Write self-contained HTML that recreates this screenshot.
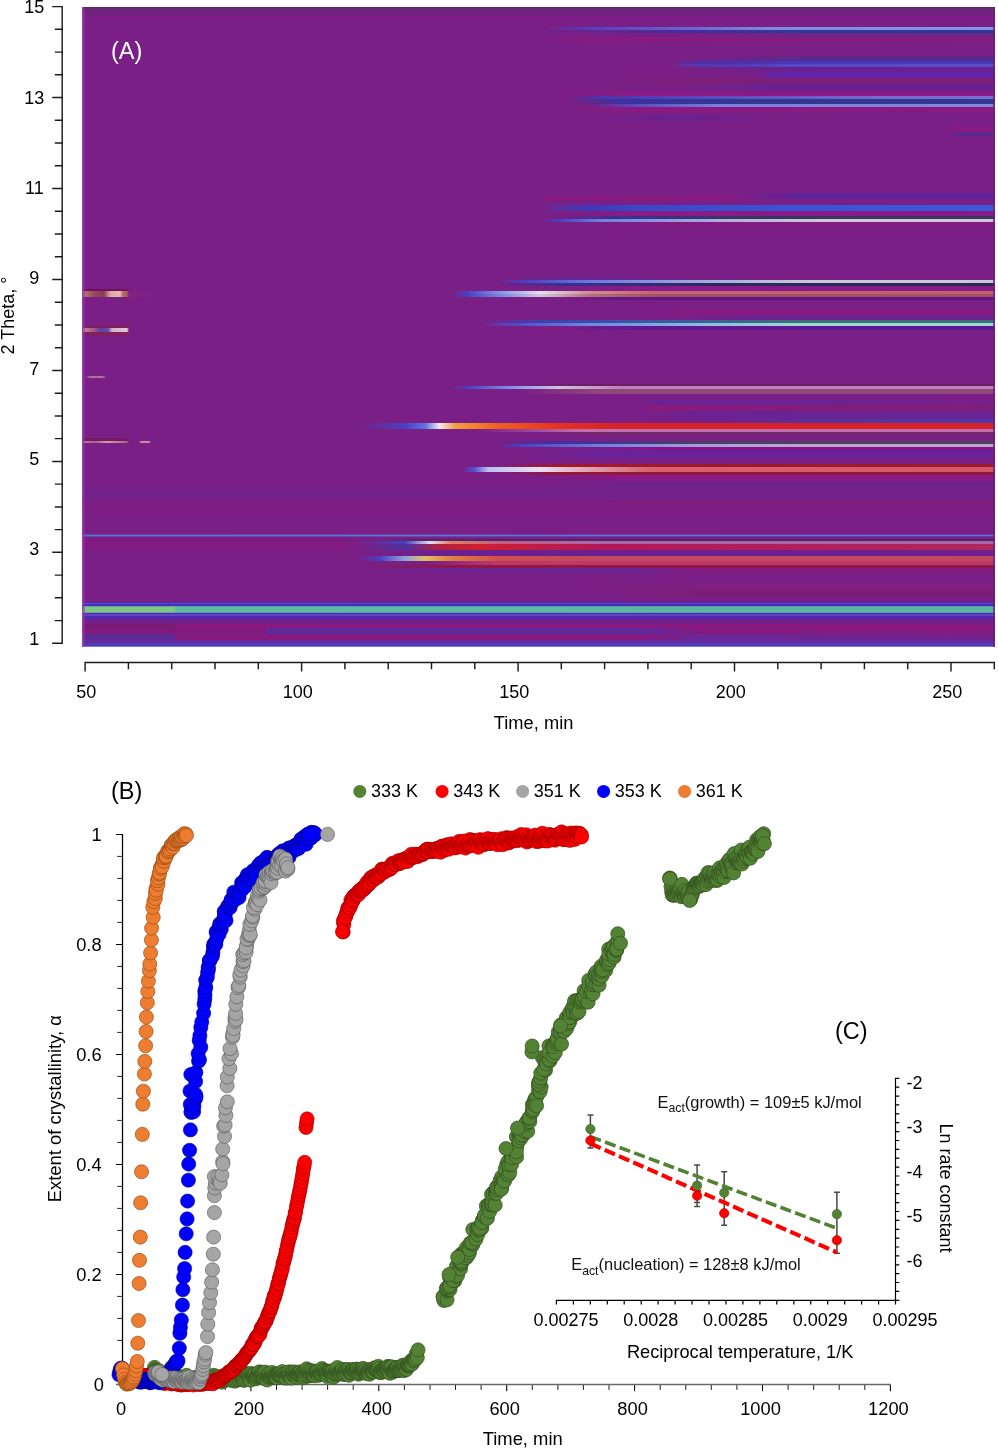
<!DOCTYPE html>
<html><head><meta charset="utf-8"><title>Figure</title>
<style>html,body{margin:0;padding:0;background:#fff}svg{display:block;will-change:transform}</style>
</head><body>
<svg width="998" height="1448" viewBox="0 0 998 1448">
<defs><linearGradient id="g1" gradientUnits="userSpaceOnUse" x1="543" y1="0" x2="994.8" y2="0"><stop offset="0.000" stop-color="#5a3cb8" stop-opacity="0"/><stop offset="0.104" stop-color="#5a3cb8"/><stop offset="0.303" stop-color="#6a60d0"/><stop offset="0.502" stop-color="#8088e0"/><stop offset="1.000" stop-color="#8c94e6"/></linearGradient>
<linearGradient id="g2" gradientUnits="userSpaceOnUse" x1="543" y1="0" x2="994.8" y2="0"><stop offset="0.000" stop-color="#4a2c98" stop-opacity="0"/><stop offset="0.303" stop-color="#4a2c98"/><stop offset="0.569" stop-color="#2e3a90"/><stop offset="1.000" stop-color="#2e3a90"/></linearGradient>
<linearGradient id="g3" gradientUnits="userSpaceOnUse" x1="680" y1="0" x2="994.8" y2="0"><stop offset="0.000" stop-color="#6a2585" stop-opacity="0"/><stop offset="0.381" stop-color="#6a2585"/><stop offset="1.000" stop-color="#6a2585"/></linearGradient>
<linearGradient id="g4" gradientUnits="userSpaceOnUse" x1="543" y1="0" x2="994.8" y2="0"><stop offset="0.000" stop-color="#8a1a80" stop-opacity="0"/><stop offset="0.126" stop-color="#8a1a80"/><stop offset="1.000" stop-color="#841c82"/></linearGradient>
<linearGradient id="g5" gradientUnits="userSpaceOnUse" x1="700" y1="0" x2="994.8" y2="0"><stop offset="0.000" stop-color="#5a2a8a" stop-opacity="0"/><stop offset="0.339" stop-color="#5a2a8a"/><stop offset="1.000" stop-color="#5a2a8a"/></linearGradient>
<linearGradient id="g6" gradientUnits="userSpaceOnUse" x1="672" y1="0" x2="994.8" y2="0"><stop offset="0.000" stop-color="#4338b8" stop-opacity="0"/><stop offset="0.087" stop-color="#4a30a8"/><stop offset="0.310" stop-color="#4a34b0"/><stop offset="0.335" stop-color="#4338b8"/><stop offset="1.000" stop-color="#4338b8"/></linearGradient>
<linearGradient id="g7" gradientUnits="userSpaceOnUse" x1="672" y1="0" x2="994.8" y2="0"><stop offset="0.000" stop-color="#5548c8" stop-opacity="0"/><stop offset="0.087" stop-color="#5038b0"/><stop offset="0.310" stop-color="#5240bc"/><stop offset="0.335" stop-color="#5548c8"/><stop offset="1.000" stop-color="#5a4ccc"/></linearGradient>
<linearGradient id="g8" gradientUnits="userSpaceOnUse" x1="700" y1="0" x2="994.8" y2="0"><stop offset="0.000" stop-color="#6a2090" stop-opacity="0"/><stop offset="0.339" stop-color="#6a2090"/><stop offset="1.000" stop-color="#6a2090"/></linearGradient>
<linearGradient id="g9" gradientUnits="userSpaceOnUse" x1="755" y1="0" x2="994.8" y2="0"><stop offset="0.000" stop-color="#6422a8" stop-opacity="0"/><stop offset="0.083" stop-color="#6422a8"/><stop offset="1.000" stop-color="#6422a8"/></linearGradient>
<linearGradient id="g10" gradientUnits="userSpaceOnUse" x1="600" y1="0" x2="994.8" y2="0"><stop offset="0.000" stop-color="#7c1f78" stop-opacity="0"/><stop offset="0.253" stop-color="#7c1f78"/><stop offset="1.000" stop-color="#7c1f78"/></linearGradient>
<linearGradient id="g11" gradientUnits="userSpaceOnUse" x1="680" y1="0" x2="994.8" y2="0"><stop offset="0.000" stop-color="#682290" stop-opacity="0"/><stop offset="0.318" stop-color="#682290"/><stop offset="1.000" stop-color="#682290"/></linearGradient>
<linearGradient id="g12" gradientUnits="userSpaceOnUse" x1="560" y1="0" x2="994.8" y2="0"><stop offset="0.000" stop-color="#8a1a85" stop-opacity="0"/><stop offset="0.184" stop-color="#8a1a85"/><stop offset="1.000" stop-color="#8a1a85"/></linearGradient>
<linearGradient id="g13" gradientUnits="userSpaceOnUse" x1="570" y1="0" x2="994.8" y2="0"><stop offset="0.000" stop-color="#4a35b0" stop-opacity="0"/><stop offset="0.071" stop-color="#4a35b0"/><stop offset="0.306" stop-color="#5a48c0"/><stop offset="0.683" stop-color="#7468cc"/><stop offset="1.000" stop-color="#7a6fd0"/></linearGradient>
<linearGradient id="g14" gradientUnits="userSpaceOnUse" x1="570" y1="0" x2="994.8" y2="0"><stop offset="0.000" stop-color="#303890" stop-opacity="0"/><stop offset="0.118" stop-color="#4030a0"/><stop offset="0.353" stop-color="#303890"/><stop offset="1.000" stop-color="#303890"/></linearGradient>
<linearGradient id="g15" gradientUnits="userSpaceOnUse" x1="588" y1="0" x2="994.8" y2="0"><stop offset="0.000" stop-color="#5040c0" stop-opacity="0"/><stop offset="0.128" stop-color="#5a50c8"/><stop offset="0.324" stop-color="#7880dc"/><stop offset="1.000" stop-color="#8088e0"/></linearGradient>
<linearGradient id="g16" gradientUnits="userSpaceOnUse" x1="560" y1="0" x2="994.8" y2="0"><stop offset="0.000" stop-color="#8a1a80" stop-opacity="0"/><stop offset="0.184" stop-color="#8a1a80"/><stop offset="1.000" stop-color="#8a1a80"/></linearGradient>
<linearGradient id="g17" gradientUnits="userSpaceOnUse" x1="588" y1="0" x2="780" y2="0"><stop offset="0.000" stop-color="#6a2090" stop-opacity="0"/><stop offset="0.479" stop-color="#6a2090"/><stop offset="1.000" stop-color="#6a2090" stop-opacity="0"/></linearGradient>
<linearGradient id="g18" gradientUnits="userSpaceOnUse" x1="950" y1="0" x2="994.8" y2="0"><stop offset="0.000" stop-color="#8a1a84" stop-opacity="0"/><stop offset="0.223" stop-color="#8a1a84"/><stop offset="1.000" stop-color="#8a1a84"/></linearGradient>
<linearGradient id="g19" gradientUnits="userSpaceOnUse" x1="950" y1="0" x2="994.8" y2="0"><stop offset="0.000" stop-color="#5f2890" stop-opacity="0"/><stop offset="0.223" stop-color="#5f2890"/><stop offset="1.000" stop-color="#5f2890"/></linearGradient>
<linearGradient id="g20" gradientUnits="userSpaceOnUse" x1="740" y1="0" x2="994.8" y2="0"><stop offset="0.000" stop-color="#5f2298" stop-opacity="0"/><stop offset="0.235" stop-color="#5f2298"/><stop offset="1.000" stop-color="#5f2298"/></linearGradient>
<linearGradient id="g21" gradientUnits="userSpaceOnUse" x1="543" y1="0" x2="760" y2="0"><stop offset="0.000" stop-color="#8a1a80"/><stop offset="0.816" stop-color="#8a1a80"/><stop offset="1.000" stop-color="#8a1a80" stop-opacity="0"/></linearGradient>
<linearGradient id="g22" gradientUnits="userSpaceOnUse" x1="540" y1="0" x2="994.8" y2="0"><stop offset="0.000" stop-color="#3848c8" stop-opacity="0"/><stop offset="0.106" stop-color="#4038b8"/><stop offset="0.220" stop-color="#3848c8"/><stop offset="0.528" stop-color="#3a52d4"/><stop offset="1.000" stop-color="#3a5ad8"/></linearGradient>
<linearGradient id="g23" gradientUnits="userSpaceOnUse" x1="560" y1="0" x2="994.8" y2="0"><stop offset="0.000" stop-color="#8a1a88" stop-opacity="0"/><stop offset="0.184" stop-color="#8a1a88"/><stop offset="1.000" stop-color="#8a1a88"/></linearGradient>
<linearGradient id="g24" gradientUnits="userSpaceOnUse" x1="560" y1="0" x2="994.8" y2="0"><stop offset="0.000" stop-color="#3a3090" stop-opacity="0"/><stop offset="0.138" stop-color="#3a3090"/><stop offset="0.414" stop-color="#3a3560"/><stop offset="1.000" stop-color="#3a3560"/></linearGradient>
<linearGradient id="g25" gradientUnits="userSpaceOnUse" x1="540" y1="0" x2="994.8" y2="0"><stop offset="0.000" stop-color="#4a40c0" stop-opacity="0"/><stop offset="0.044" stop-color="#4a40c0"/><stop offset="0.132" stop-color="#7080e0"/><stop offset="0.409" stop-color="#b0b0e0"/><stop offset="0.616" stop-color="#d0c8d8"/><stop offset="1.000" stop-color="#d0c8d8"/></linearGradient>
<linearGradient id="g26" gradientUnits="userSpaceOnUse" x1="600" y1="0" x2="994.8" y2="0"><stop offset="0.000" stop-color="#84197f" stop-opacity="0"/><stop offset="0.203" stop-color="#84197f"/><stop offset="1.000" stop-color="#84197f"/></linearGradient>
<linearGradient id="g27" gradientUnits="userSpaceOnUse" x1="497" y1="0" x2="700" y2="0"><stop offset="0.000" stop-color="#6a2490" stop-opacity="0"/><stop offset="0.310" stop-color="#6a2490"/><stop offset="1.000" stop-color="#6a2490" stop-opacity="0"/></linearGradient>
<linearGradient id="g28" gradientUnits="userSpaceOnUse" x1="497" y1="0" x2="994.8" y2="0"><stop offset="0.000" stop-color="#4a40c0" stop-opacity="0"/><stop offset="0.056" stop-color="#4a40c0"/><stop offset="0.185" stop-color="#6a78e0"/><stop offset="0.408" stop-color="#a0a8e0"/><stop offset="0.609" stop-color="#c8c8d8"/><stop offset="1.000" stop-color="#c8c8d8"/></linearGradient>
<linearGradient id="g29" gradientUnits="userSpaceOnUse" x1="497" y1="0" x2="994.8" y2="0"><stop offset="0.000" stop-color="#3a3090" stop-opacity="0"/><stop offset="0.127" stop-color="#3a3090"/><stop offset="0.408" stop-color="#2a2a60"/><stop offset="1.000" stop-color="#2a2a50"/></linearGradient>
<linearGradient id="g30" gradientUnits="userSpaceOnUse" x1="560" y1="0" x2="994.8" y2="0"><stop offset="0.000" stop-color="#8a1a88" stop-opacity="0"/><stop offset="0.184" stop-color="#8a1a88"/><stop offset="1.000" stop-color="#8a1a88"/></linearGradient>
<linearGradient id="g31" gradientUnits="userSpaceOnUse" x1="451" y1="0" x2="994.8" y2="0"><stop offset="0.000" stop-color="#4a40c0" stop-opacity="0"/><stop offset="0.031" stop-color="#4a40c0"/><stop offset="0.085" stop-color="#8090e0"/><stop offset="0.164" stop-color="#e4e0f0"/><stop offset="0.254" stop-color="#d09090"/><stop offset="0.366" stop-color="#c06878"/><stop offset="1.000" stop-color="#c06070"/></linearGradient>
<linearGradient id="g32" gradientUnits="userSpaceOnUse" x1="451" y1="0" x2="994.8" y2="0"><stop offset="0.000" stop-color="#4a40c0" stop-opacity="0"/><stop offset="0.031" stop-color="#4a40c0"/><stop offset="0.085" stop-color="#7080d8"/><stop offset="0.164" stop-color="#d0c8e0"/><stop offset="0.254" stop-color="#b87078"/><stop offset="0.366" stop-color="#a85060"/><stop offset="1.000" stop-color="#a85060"/></linearGradient>
<linearGradient id="g33" gradientUnits="userSpaceOnUse" x1="560" y1="0" x2="994.8" y2="0"><stop offset="0.000" stop-color="#601888" stop-opacity="0"/><stop offset="0.138" stop-color="#601888"/><stop offset="1.000" stop-color="#601888"/></linearGradient>
<linearGradient id="g34" gradientUnits="userSpaceOnUse" x1="680" y1="0" x2="994.8" y2="0"><stop offset="0.000" stop-color="#6a2090" stop-opacity="0"/><stop offset="0.254" stop-color="#6a2090"/><stop offset="1.000" stop-color="#6a2090"/></linearGradient>
<linearGradient id="g35" gradientUnits="userSpaceOnUse" x1="480" y1="0" x2="994.8" y2="0"><stop offset="0.000" stop-color="#4040b0" stop-opacity="0"/><stop offset="0.122" stop-color="#4040b0"/><stop offset="0.330" stop-color="#3a58a0"/><stop offset="0.622" stop-color="#3a7078"/><stop offset="1.000" stop-color="#3a7078"/></linearGradient>
<linearGradient id="g36" gradientUnits="userSpaceOnUse" x1="480" y1="0" x2="994.8" y2="0"><stop offset="0.000" stop-color="#5050c8" stop-opacity="0"/><stop offset="0.078" stop-color="#5050c8"/><stop offset="0.212" stop-color="#7088e0"/><stop offset="0.427" stop-color="#90b8e0"/><stop offset="0.622" stop-color="#a0d8d0"/><stop offset="1.000" stop-color="#a0d8d0"/></linearGradient>
<linearGradient id="g37" gradientUnits="userSpaceOnUse" x1="560" y1="0" x2="994.8" y2="0"><stop offset="0.000" stop-color="#601890" stop-opacity="0"/><stop offset="0.184" stop-color="#601890"/><stop offset="1.000" stop-color="#601890"/></linearGradient>
<linearGradient id="g38" gradientUnits="userSpaceOnUse" x1="640" y1="0" x2="994.8" y2="0"><stop offset="0.000" stop-color="#8a1a80" stop-opacity="0"/><stop offset="0.169" stop-color="#8a1a80"/><stop offset="1.000" stop-color="#8a1a80"/></linearGradient>
<linearGradient id="g39" gradientUnits="userSpaceOnUse" x1="520" y1="0" x2="994.8" y2="0"><stop offset="0.000" stop-color="#6a2060" stop-opacity="0"/><stop offset="0.126" stop-color="#6a2060"/><stop offset="1.000" stop-color="#6a2060"/></linearGradient>
<linearGradient id="g40" gradientUnits="userSpaceOnUse" x1="451" y1="0" x2="994.8" y2="0"><stop offset="0.000" stop-color="#4a40c0" stop-opacity="0"/><stop offset="0.031" stop-color="#4a40c0"/><stop offset="0.127" stop-color="#90a0e8"/><stop offset="0.200" stop-color="#d0c0e0"/><stop offset="0.311" stop-color="#c080c0"/><stop offset="1.000" stop-color="#c080c0"/></linearGradient>
<linearGradient id="g41" gradientUnits="userSpaceOnUse" x1="520" y1="0" x2="994.8" y2="0"><stop offset="0.000" stop-color="#904878" stop-opacity="0"/><stop offset="0.168" stop-color="#904878"/><stop offset="1.000" stop-color="#904878"/></linearGradient>
<linearGradient id="g42" gradientUnits="userSpaceOnUse" x1="640" y1="0" x2="994.8" y2="0"><stop offset="0.000" stop-color="#6a2294" stop-opacity="0"/><stop offset="0.056" stop-color="#6a2294"/><stop offset="0.451" stop-color="#6a2294"/><stop offset="1.000" stop-color="#7a2088"/></linearGradient>
<linearGradient id="g43" gradientUnits="userSpaceOnUse" x1="640" y1="0" x2="994.8" y2="0"><stop offset="0.000" stop-color="#8a1a7c" stop-opacity="0"/><stop offset="0.056" stop-color="#8a1a7c"/><stop offset="1.000" stop-color="#7c1f78"/></linearGradient>
<linearGradient id="g44" gradientUnits="userSpaceOnUse" x1="640" y1="0" x2="994.8" y2="0"><stop offset="0.000" stop-color="#6a2294" stop-opacity="0"/><stop offset="0.169" stop-color="#6a2294"/><stop offset="1.000" stop-color="#682494"/></linearGradient>
<linearGradient id="g45" gradientUnits="userSpaceOnUse" x1="700" y1="0" x2="994.8" y2="0"><stop offset="0.000" stop-color="#5a3098" stop-opacity="0"/><stop offset="0.339" stop-color="#5a3098"/><stop offset="1.000" stop-color="#5038a8"/></linearGradient>
<linearGradient id="g46" gradientUnits="userSpaceOnUse" x1="359" y1="0" x2="994.8" y2="0"><stop offset="0.000" stop-color="#4a40c0" stop-opacity="0"/><stop offset="0.072" stop-color="#4a40c0"/><stop offset="0.104" stop-color="#6070e0"/><stop offset="0.127" stop-color="#f0e8f0"/><stop offset="0.151" stop-color="#f0a040"/><stop offset="0.217" stop-color="#f06020"/><stop offset="0.316" stop-color="#e83020"/><stop offset="0.411" stop-color="#d82028"/><stop offset="1.000" stop-color="#d82028"/></linearGradient>
<linearGradient id="g47" gradientUnits="userSpaceOnUse" x1="480" y1="0" x2="994.8" y2="0"><stop offset="0.000" stop-color="#c070b0" stop-opacity="0"/><stop offset="0.194" stop-color="#c070b0"/><stop offset="1.000" stop-color="#c070b0"/></linearGradient>
<linearGradient id="g48" gradientUnits="userSpaceOnUse" x1="540" y1="0" x2="994.8" y2="0"><stop offset="0.000" stop-color="#702868" stop-opacity="0"/><stop offset="0.132" stop-color="#702868"/><stop offset="1.000" stop-color="#702868"/></linearGradient>
<linearGradient id="g49" gradientUnits="userSpaceOnUse" x1="497" y1="0" x2="994.8" y2="0"><stop offset="0.000" stop-color="#4030a0" stop-opacity="0"/><stop offset="0.127" stop-color="#4030a0"/><stop offset="0.408" stop-color="#4a4060"/><stop offset="1.000" stop-color="#4a4060"/></linearGradient>
<linearGradient id="g50" gradientUnits="userSpaceOnUse" x1="497" y1="0" x2="994.8" y2="0"><stop offset="0.000" stop-color="#4a40c0" stop-opacity="0"/><stop offset="0.046" stop-color="#4a40c0"/><stop offset="0.207" stop-color="#7080e0"/><stop offset="0.408" stop-color="#a0a0e0"/><stop offset="0.609" stop-color="#b8a8d0"/><stop offset="1.000" stop-color="#b8a8d0"/></linearGradient>
<linearGradient id="g51" gradientUnits="userSpaceOnUse" x1="600" y1="0" x2="994.8" y2="0"><stop offset="0.000" stop-color="#8a1088" stop-opacity="0"/><stop offset="0.152" stop-color="#8a1088"/><stop offset="1.000" stop-color="#8a1088"/></linearGradient>
<linearGradient id="g52" gradientUnits="userSpaceOnUse" x1="520" y1="0" x2="994.8" y2="0"><stop offset="0.000" stop-color="#6a2298" stop-opacity="0"/><stop offset="0.168" stop-color="#6a2298"/><stop offset="1.000" stop-color="#6a2298"/></linearGradient>
<linearGradient id="g53" gradientUnits="userSpaceOnUse" x1="497" y1="0" x2="994.8" y2="0"><stop offset="0.000" stop-color="#a01830" stop-opacity="0"/><stop offset="0.127" stop-color="#a01830"/><stop offset="1.000" stop-color="#a01830"/></linearGradient>
<linearGradient id="g54" gradientUnits="userSpaceOnUse" x1="462" y1="0" x2="994.8" y2="0"><stop offset="0.000" stop-color="#5050d0" stop-opacity="0"/><stop offset="0.023" stop-color="#5050d0"/><stop offset="0.049" stop-color="#c0c0f0"/><stop offset="0.146" stop-color="#e8e0f0"/><stop offset="0.240" stop-color="#e0a0b0"/><stop offset="0.353" stop-color="#d86070"/><stop offset="1.000" stop-color="#d05868"/></linearGradient>
<linearGradient id="g55" gradientUnits="userSpaceOnUse" x1="500" y1="0" x2="994.8" y2="0"><stop offset="0.000" stop-color="#901838" stop-opacity="0"/><stop offset="0.121" stop-color="#901838"/><stop offset="1.000" stop-color="#901838"/></linearGradient>
<linearGradient id="g56" gradientUnits="userSpaceOnUse" x1="540" y1="0" x2="994.8" y2="0"><stop offset="0.000" stop-color="#8a1a88" stop-opacity="0"/><stop offset="0.176" stop-color="#8a1a88"/><stop offset="1.000" stop-color="#8a1a88"/></linearGradient>
<linearGradient id="g57" gradientUnits="userSpaceOnUse" x1="540" y1="0" x2="994.8" y2="0"><stop offset="0.000" stop-color="#70218c" stop-opacity="0"/><stop offset="0.176" stop-color="#70218c"/><stop offset="1.000" stop-color="#70218c"/></linearGradient>
<linearGradient id="g58" gradientUnits="userSpaceOnUse" x1="560" y1="0" x2="994.8" y2="0"><stop offset="0.000" stop-color="#74207c" stop-opacity="0"/><stop offset="0.184" stop-color="#74207c"/><stop offset="1.000" stop-color="#74207c"/></linearGradient>
<linearGradient id="g59" gradientUnits="userSpaceOnUse" x1="83" y1="0" x2="994.8" y2="0"><stop offset="0.000" stop-color="#5c4ab0"/><stop offset="0.348" stop-color="#5c4ab0"/><stop offset="0.567" stop-color="#5a44b4"/><stop offset="1.000" stop-color="#5a3eb8"/></linearGradient>
<linearGradient id="g60" gradientUnits="userSpaceOnUse" x1="83" y1="0" x2="994.8" y2="0"><stop offset="0.000" stop-color="#7466c4"/><stop offset="1.000" stop-color="#7a68cc"/></linearGradient>
<linearGradient id="g61" gradientUnits="userSpaceOnUse" x1="83" y1="0" x2="359" y2="0"><stop offset="0.000" stop-color="#821a80"/><stop offset="0.931" stop-color="#821a80"/><stop offset="1.000" stop-color="#821a80" stop-opacity="0"/></linearGradient>
<linearGradient id="g62" gradientUnits="userSpaceOnUse" x1="380" y1="0" x2="994.8" y2="0"><stop offset="0.000" stop-color="#5a2068" stop-opacity="0"/><stop offset="0.065" stop-color="#5a2068"/><stop offset="1.000" stop-color="#5a2068"/></linearGradient>
<linearGradient id="g63" gradientUnits="userSpaceOnUse" x1="359" y1="0" x2="994.8" y2="0"><stop offset="0.000" stop-color="#4040c0" stop-opacity="0"/><stop offset="0.072" stop-color="#4040c0"/><stop offset="0.112" stop-color="#e0e0f0"/><stop offset="0.145" stop-color="#e08060"/><stop offset="0.222" stop-color="#c06080"/><stop offset="0.379" stop-color="#a868a8"/><stop offset="1.000" stop-color="#a868a8"/></linearGradient>
<linearGradient id="g64" gradientUnits="userSpaceOnUse" x1="359" y1="0" x2="994.8" y2="0"><stop offset="0.000" stop-color="#5030a0" stop-opacity="0"/><stop offset="0.072" stop-color="#5030a0"/><stop offset="0.127" stop-color="#b02040"/><stop offset="0.190" stop-color="#d02030"/><stop offset="0.379" stop-color="#b01858"/><stop offset="1.000" stop-color="#b02860"/></linearGradient>
<linearGradient id="g65" gradientUnits="userSpaceOnUse" x1="359" y1="0" x2="994.8" y2="0"><stop offset="0.000" stop-color="#6a2090" stop-opacity="0"/><stop offset="0.145" stop-color="#6a2090"/><stop offset="1.000" stop-color="#702090"/></linearGradient>
<linearGradient id="g66" gradientUnits="userSpaceOnUse" x1="359" y1="0" x2="994.8" y2="0"><stop offset="0.000" stop-color="#4a40c0" stop-opacity="0"/><stop offset="0.033" stop-color="#4a40c0"/><stop offset="0.072" stop-color="#90a0e0"/><stop offset="0.104" stop-color="#e0c060"/><stop offset="0.145" stop-color="#e08040"/><stop offset="0.217" stop-color="#d05050"/><stop offset="0.379" stop-color="#c04860"/><stop offset="1.000" stop-color="#c04860"/></linearGradient>
<linearGradient id="g67" gradientUnits="userSpaceOnUse" x1="430" y1="0" x2="994.8" y2="0"><stop offset="0.000" stop-color="#c03868" stop-opacity="0"/><stop offset="0.119" stop-color="#c03868"/><stop offset="1.000" stop-color="#c03868"/></linearGradient>
<linearGradient id="g68" gradientUnits="userSpaceOnUse" x1="359" y1="0" x2="994.8" y2="0"><stop offset="0.000" stop-color="#901848" stop-opacity="0"/><stop offset="0.145" stop-color="#901848"/><stop offset="1.000" stop-color="#901848"/></linearGradient>
<linearGradient id="g69" gradientUnits="userSpaceOnUse" x1="359" y1="0" x2="700" y2="0"><stop offset="0.000" stop-color="#6c2292" stop-opacity="0"/><stop offset="0.270" stop-color="#6c2292"/><stop offset="0.824" stop-color="#6c2292"/><stop offset="1.000" stop-color="#84197f"/></linearGradient>
<linearGradient id="g70" gradientUnits="userSpaceOnUse" x1="600" y1="0" x2="994.8" y2="0"><stop offset="0.000" stop-color="#7a1f78" stop-opacity="0"/><stop offset="0.253" stop-color="#7a1f78"/><stop offset="1.000" stop-color="#7a1f78"/></linearGradient>
<linearGradient id="g71" gradientUnits="userSpaceOnUse" x1="560" y1="0" x2="994.8" y2="0"><stop offset="0.000" stop-color="#80207c" stop-opacity="0"/><stop offset="0.322" stop-color="#80207c"/><stop offset="1.000" stop-color="#80207c"/></linearGradient>
<linearGradient id="g72" gradientUnits="userSpaceOnUse" x1="83" y1="0" x2="994.8" y2="0"><stop offset="0.000" stop-color="#7cc884"/><stop offset="0.099" stop-color="#7cc884"/><stop offset="0.103" stop-color="#5cbca0"/><stop offset="1.000" stop-color="#58b8a0"/></linearGradient>
<linearGradient id="g73" gradientUnits="userSpaceOnUse" x1="83" y1="0" x2="994.8" y2="0"><stop offset="0.000" stop-color="#7a1a74"/><stop offset="0.099" stop-color="#7a1a74"/><stop offset="0.103" stop-color="#8a1880"/><stop offset="1.000" stop-color="#8a1880"/></linearGradient>
<linearGradient id="g74" gradientUnits="userSpaceOnUse" x1="83" y1="0" x2="994.8" y2="0"><stop offset="0.000" stop-color="#80197c"/><stop offset="0.199" stop-color="#80197c"/><stop offset="0.203" stop-color="#602a9c"/><stop offset="0.611" stop-color="#602a9c"/><stop offset="0.677" stop-color="#84197f"/><stop offset="1.000" stop-color="#84197f"/></linearGradient>
<linearGradient id="g75" gradientUnits="userSpaceOnUse" x1="83" y1="0" x2="994.8" y2="0"><stop offset="0.000" stop-color="#5e2a98"/><stop offset="0.099" stop-color="#5e2a98"/><stop offset="0.103" stop-color="#84197e"/><stop offset="0.611" stop-color="#84197e"/><stop offset="0.677" stop-color="#6a2898"/><stop offset="1.000" stop-color="#74208c"/></linearGradient>
<linearGradient id="g76" gradientUnits="userSpaceOnUse" x1="83" y1="0" x2="130" y2="0"><stop offset="0.000" stop-color="#701060"/><stop offset="0.915" stop-color="#701060"/><stop offset="1.000" stop-color="#701060" stop-opacity="0"/></linearGradient>
<linearGradient id="g77" gradientUnits="userSpaceOnUse" x1="83" y1="0" x2="152" y2="0"><stop offset="0.000" stop-color="#b87a6c"/><stop offset="0.188" stop-color="#94445a"/><stop offset="0.304" stop-color="#8c3a58"/><stop offset="0.391" stop-color="#d8a8a0"/><stop offset="0.536" stop-color="#e4bcac"/><stop offset="0.580" stop-color="#b46c5c"/><stop offset="0.638" stop-color="#a45c60"/><stop offset="0.667" stop-color="#8a3080" stop-opacity="0.35"/><stop offset="0.971" stop-color="#8a3080" stop-opacity="0.12"/><stop offset="1.000" stop-color="#8a3080" stop-opacity="0"/></linearGradient>
<linearGradient id="g78" gradientUnits="userSpaceOnUse" x1="83" y1="0" x2="130" y2="0"><stop offset="0.000" stop-color="#802060"/><stop offset="0.915" stop-color="#802060"/><stop offset="1.000" stop-color="#802060" stop-opacity="0"/></linearGradient>
<linearGradient id="g79" gradientUnits="userSpaceOnUse" x1="83" y1="0" x2="129" y2="0"><stop offset="0.000" stop-color="#c08898"/><stop offset="0.239" stop-color="#a05888"/><stop offset="0.370" stop-color="#6040a0"/><stop offset="0.543" stop-color="#6848a8"/><stop offset="0.630" stop-color="#d0b0c8"/><stop offset="0.957" stop-color="#e0c8d0"/><stop offset="1.000" stop-color="#e0c8d0" stop-opacity="0"/></linearGradient>
<linearGradient id="g80" gradientUnits="userSpaceOnUse" x1="83" y1="0" x2="130" y2="0"><stop offset="0.000" stop-color="#802060"/><stop offset="0.915" stop-color="#802060"/><stop offset="1.000" stop-color="#802060" stop-opacity="0"/></linearGradient>
<linearGradient id="g81" gradientUnits="userSpaceOnUse" x1="86" y1="0" x2="106" y2="0"><stop offset="0.000" stop-color="#b070a0" stop-opacity="0"/><stop offset="0.200" stop-color="#b070a0"/><stop offset="0.850" stop-color="#b070a0"/><stop offset="1.000" stop-color="#b070a0" stop-opacity="0"/></linearGradient>
<linearGradient id="g82" gradientUnits="userSpaceOnUse" x1="83" y1="0" x2="129" y2="0"><stop offset="0.000" stop-color="#c08090"/><stop offset="0.283" stop-color="#a06088"/><stop offset="0.500" stop-color="#d0a0a0"/><stop offset="0.761" stop-color="#c08090"/><stop offset="0.957" stop-color="#a06088"/><stop offset="1.000" stop-color="#a06088" stop-opacity="0"/></linearGradient>
<linearGradient id="g83" gradientUnits="userSpaceOnUse" x1="139" y1="0" x2="151" y2="0"><stop offset="0.000" stop-color="#c090a0" stop-opacity="0"/><stop offset="0.167" stop-color="#c090a0"/><stop offset="0.833" stop-color="#c090a0"/><stop offset="1.000" stop-color="#c090a0" stop-opacity="0"/></linearGradient>
<linearGradient id="g84" gradientUnits="userSpaceOnUse" x1="83" y1="0" x2="130" y2="0"><stop offset="0.000" stop-color="#741868"/><stop offset="0.915" stop-color="#741868"/><stop offset="1.000" stop-color="#741868" stop-opacity="0"/></linearGradient></defs>
<rect width="998" height="1448" fill="#fff"/>
<g shape-rendering="crispEdges">
<rect x="82.2" y="7" width="912.6" height="640" fill="#7a1f86"/>
<rect x="82.2" y="7" width="912.6" height="1.2" fill="#5e2868"/>
<rect x="82.2" y="8.2" width="912.6" height="6.8" fill="#6c2478"/>
<rect x="82.2" y="15" width="912.6" height="5" fill="#7e1d8a"/>
<rect x="543" y="27" width="451.8" height="2.7" fill="url(#g1)"/>
<rect x="543" y="29.7" width="451.8" height="2.9" fill="url(#g2)"/>
<rect x="680" y="32.6" width="314.8" height="4.1" fill="url(#g3)"/>
<rect x="543" y="38" width="451.8" height="4" fill="url(#g4)"/>
<rect x="700" y="55.6" width="294.8" height="5.4" fill="url(#g5)"/>
<rect x="672" y="61" width="322.8" height="2.9" fill="url(#g6)"/>
<rect x="672" y="63.9" width="322.8" height="3" fill="url(#g7)"/>
<rect x="700" y="66.9" width="294.8" height="5.1" fill="url(#g8)"/>
<rect x="755" y="72" width="239.8" height="6" fill="url(#g9)"/>
<rect x="600" y="78" width="394.8" height="6" fill="url(#g10)"/>
<rect x="680" y="84" width="314.8" height="6.5" fill="url(#g11)"/>
<rect x="560" y="90.5" width="434.8" height="5.3" fill="url(#g12)"/>
<rect x="570" y="95.8" width="424.8" height="3.5" fill="url(#g13)"/>
<rect x="570" y="99.3" width="424.8" height="4.7" fill="url(#g14)"/>
<rect x="588" y="104" width="406.8" height="3" fill="url(#g15)"/>
<rect x="560" y="107" width="434.8" height="5" fill="url(#g16)"/>
<rect x="588" y="116" width="406.8" height="5" fill="url(#g17)"/>
<rect x="950" y="126" width="44.8" height="6" fill="url(#g18)"/>
<rect x="950" y="132" width="44.8" height="4" fill="url(#g19)"/>
<rect x="740" y="193.4" width="254.8" height="5.9" fill="url(#g20)"/>
<rect x="543" y="196" width="451.8" height="4" fill="url(#g21)"/>
<rect x="540" y="204.6" width="454.8" height="6.4" fill="url(#g22)"/>
<rect x="560" y="211" width="434.8" height="5.4" fill="url(#g23)"/>
<rect x="560" y="216.4" width="434.8" height="3" fill="url(#g24)"/>
<rect x="540" y="219.4" width="454.8" height="3" fill="url(#g25)"/>
<rect x="600" y="222.4" width="394.8" height="3.6" fill="url(#g26)"/>
<rect x="497" y="276" width="497.8" height="3.7" fill="url(#g27)"/>
<rect x="497" y="279.7" width="497.8" height="3" fill="url(#g28)"/>
<rect x="497" y="282.7" width="497.8" height="2.9" fill="url(#g29)"/>
<rect x="560" y="285.6" width="434.8" height="5.4" fill="url(#g30)"/>
<rect x="451" y="291" width="543.8" height="2.6" fill="url(#g31)"/>
<rect x="451" y="293.6" width="543.8" height="3.4" fill="url(#g32)"/>
<rect x="560" y="297" width="434.8" height="3.4" fill="url(#g33)"/>
<rect x="680" y="316" width="314.8" height="4" fill="url(#g34)"/>
<rect x="480" y="319.9" width="514.8" height="3" fill="url(#g35)"/>
<rect x="480" y="322.9" width="514.8" height="2.8" fill="url(#g36)"/>
<rect x="560" y="325.7" width="434.8" height="4.3" fill="url(#g37)"/>
<rect x="640" y="310" width="354.8" height="4" fill="url(#g38)"/>
<rect x="520" y="383.8" width="474.8" height="2.4" fill="url(#g39)"/>
<rect x="451" y="386.2" width="543.8" height="2.9" fill="url(#g40)"/>
<rect x="520" y="389.1" width="474.8" height="5.3" fill="url(#g41)"/>
<rect x="640" y="400" width="354.8" height="5" fill="url(#g42)"/>
<rect x="640" y="405" width="354.8" height="6" fill="url(#g43)"/>
<rect x="640" y="411" width="354.8" height="8" fill="url(#g44)"/>
<rect x="700" y="419" width="294.8" height="4.4" fill="url(#g45)"/>
<rect x="359" y="423.4" width="635.8" height="6" fill="url(#g46)"/>
<rect x="480" y="429.4" width="514.8" height="2.9" fill="url(#g47)"/>
<rect x="540" y="432.3" width="454.8" height="2.9" fill="url(#g48)"/>
<rect x="497" y="441.1" width="497.8" height="2.6" fill="url(#g49)"/>
<rect x="497" y="443.7" width="497.8" height="2.9" fill="url(#g50)"/>
<rect x="600" y="446.6" width="394.8" height="3.4" fill="url(#g51)"/>
<rect x="520" y="450" width="474.8" height="8" fill="url(#g52)"/>
<rect x="497" y="463.6" width="497.8" height="3" fill="url(#g53)"/>
<rect x="462" y="466.6" width="532.8" height="5.4" fill="url(#g54)"/>
<rect x="500" y="472" width="494.8" height="3" fill="url(#g55)"/>
<rect x="540" y="475" width="454.8" height="6" fill="url(#g56)"/>
<rect x="82.2" y="487" width="912.6" height="11" fill="#73218a"/>
<rect x="540" y="481" width="454.8" height="6" fill="url(#g57)"/>
<rect x="560" y="500" width="434.8" height="6" fill="url(#g58)"/>
<rect x="82.2" y="503" width="912.6" height="11" fill="#7f1c84"/>
<rect x="83" y="533.8" width="911.8" height="3.6" fill="url(#g59)"/>
<rect x="83" y="534.6" width="911.8" height="1.6" fill="url(#g60)"/>
<rect x="83" y="539" width="911.8" height="10" fill="url(#g61)"/>
<rect x="380" y="538.7" width="614.8" height="2.3" fill="url(#g62)"/>
<rect x="359" y="541" width="635.8" height="3" fill="url(#g63)"/>
<rect x="359" y="544" width="635.8" height="6" fill="url(#g64)"/>
<rect x="359" y="550" width="635.8" height="6" fill="url(#g65)"/>
<rect x="359" y="556" width="635.8" height="5" fill="url(#g66)"/>
<rect x="430" y="561" width="564.8" height="3.5" fill="url(#g67)"/>
<rect x="359" y="564.5" width="635.8" height="3" fill="url(#g68)"/>
<rect x="359" y="567.5" width="635.8" height="5.5" fill="url(#g69)"/>
<rect x="600" y="590" width="394.8" height="6" fill="url(#g70)"/>
<rect x="560" y="584" width="434.8" height="6" fill="url(#g71)"/>
<rect x="82.2" y="601.6" width="912.6" height="4.8" fill="#4a2cb8"/>
<rect x="83" y="606.4" width="911.8" height="6.4" fill="url(#g72)"/>
<rect x="82.2" y="612.8" width="912.6" height="6.2" fill="#5028b4"/>
<rect x="82.2" y="602.6" width="912.6" height="1.8" fill="#6a54c8" opacity="0.7"/>
<rect x="82.2" y="614.2" width="912.6" height="1.8" fill="#6a50c8" opacity="0.7"/>
<rect x="82.2" y="606.4" width="912.6" height="1" fill="#5a88b0" opacity="0.6"/>
<rect x="82.2" y="611.8" width="912.6" height="1" fill="#5a88b0" opacity="0.6"/>
<rect x="82.2" y="619" width="912.6" height="4.5" fill="#74208a"/>
<rect x="83" y="623.5" width="911.8" height="4.5" fill="url(#g73)"/>
<rect x="83" y="628" width="911.8" height="6" fill="url(#g74)"/>
<rect x="83" y="634" width="911.8" height="6" fill="url(#g75)"/>
<rect x="82.2" y="640" width="912.6" height="3.2" fill="#6a2a9c"/>
<rect x="82.2" y="643.2" width="912.6" height="3.8" fill="#4a3cc0"/>
<rect x="82.2" y="645.8" width="912.6" height="1.2" fill="#8474d4"/>
<rect x="83" y="288.5" width="911.8" height="2.5" fill="url(#g76)"/>
<rect x="83" y="291" width="911.8" height="5.6" fill="url(#g77)"/>
<rect x="83" y="325" width="911.8" height="2.7" fill="url(#g78)"/>
<rect x="83" y="327.5" width="911.8" height="4.4" fill="url(#g79)"/>
<rect x="83" y="331.7" width="911.8" height="4.3" fill="url(#g80)"/>
<rect x="86" y="375.5" width="908.8" height="2" fill="url(#g81)"/>
<rect x="83" y="441" width="911.8" height="2" fill="url(#g82)"/>
<rect x="139" y="441" width="855.8" height="2" fill="url(#g83)"/>
<rect x="83" y="438" width="911.8" height="3" fill="url(#g84)"/>
<rect x="82.2" y="7" width="1" height="640" fill="#a050b4" opacity="0.75"/>
<rect x="83.2" y="7" width="1.4" height="640" fill="#9038a6" opacity="0.55"/>
<rect x="993.3" y="7" width="1.5" height="640" fill="#6a2078" opacity="0.8"/>
</g>
<g stroke="#1c1c1c" stroke-width="1.45" fill="none">
<path d="M62.2 6.6V643.3"/>
<path d="M62.9 643.3H52.2M62.9 620.6H54.8M62.9 597.8H54.8M62.9 575.1H54.8M62.9 552.3H52.2M62.9 529.6H54.8M62.9 506.9H54.8M62.9 484.1H54.8M62.9 461.4H52.2M62.9 438.6H54.8M62.9 415.9H54.8M62.9 393.2H54.8M62.9 370.4H52.2M62.9 347.7H54.8M62.9 324.9H54.8M62.9 302.2H54.8M62.9 279.5H52.2M62.9 256.7H54.8M62.9 234H54.8M62.9 211.2H54.8M62.9 188.5H52.2M62.9 165.8H54.8M62.9 143H54.8M62.9 120.3H54.8M62.9 97.5H52.2M62.9 74.8H54.8M62.9 52.1H54.8M62.9 29.3H54.8M62.9 6.6H52.2"/>
<path d="M84.4 662.4H995M85.1 662.4V671.4M128.4 662.4V669.2M171.7 662.4V669.2M215 662.4V669.2M258.3 662.4V669.2M301.6 662.4V671.4M344.9 662.4V669.2M388.2 662.4V669.2M431.5 662.4V669.2M474.8 662.4V669.2M518.1 662.4V671.4M561.3 662.4V669.2M604.6 662.4V669.2M647.9 662.4V669.2M691.2 662.4V669.2M734.5 662.4V671.4M777.8 662.4V669.2M821.1 662.4V669.2M864.4 662.4V669.2M907.7 662.4V669.2M951 662.4V671.4M994.3 662.4V669.2"/>
</g>
<g font-family='"Liberation Sans", sans-serif' font-size="18" fill="#000">
<text x="34.3" y="645.3" text-anchor="middle">1</text>
<text x="34.3" y="555" text-anchor="middle">3</text>
<text x="34.3" y="464.8" text-anchor="middle">5</text>
<text x="34.3" y="374.5" text-anchor="middle">7</text>
<text x="34.3" y="284.2" text-anchor="middle">9</text>
<text x="34.3" y="194" text-anchor="middle">11</text>
<text x="34.3" y="103.7" text-anchor="middle">13</text>
<text x="34.3" y="13.4" text-anchor="middle">15</text>
<text x="96.3" y="698.3" text-anchor="end">50</text>
<text x="312.8" y="698.3" text-anchor="end">100</text>
<text x="529.3" y="698.3" text-anchor="end">150</text>
<text x="745.7" y="698.3" text-anchor="end">200</text>
<text x="962.2" y="698.3" text-anchor="end">250</text>
<text x="533.6" y="729" text-anchor="middle" font-size="18.3">Time, min</text>
<text transform="translate(14 354.5) rotate(-90)">2 Theta, °</text>
</g>
<text x="111" y="59" font-family='"Liberation Sans", sans-serif' font-size="23.5" fill="#fff">(A)</text>
<g stroke="#000" fill="none">
<path stroke-width="1.25" d="M122.5 833.9V1384.4"/>
<path stroke-width="1.05" d="M122.5 1384.4H116M122.5 1274.4H116M122.5 1164.4H116M122.5 1054.4H116M122.5 944.4H116M122.5 834.4H116"/>
<path stroke-width="0.85" d="M122.5 1362.4H117.2M122.5 1340.4H117.2M122.5 1318.4H117.2M122.5 1296.4H117.2M122.5 1252.4H117.2M122.5 1230.4H117.2M122.5 1208.4H117.2M122.5 1186.4H117.2M122.5 1142.4H117.2M122.5 1120.4H117.2M122.5 1098.4H117.2M122.5 1076.4H117.2M122.5 1032.4H117.2M122.5 1010.4H117.2M122.5 988.4H117.2M122.5 966.4H117.2M122.5 922.4H117.2M122.5 900.4H117.2M122.5 878.4H117.2M122.5 856.4H117.2"/>
</g>
<path stroke="#000" stroke-width="1.05" fill="none" d="M250.9 1384.4V1391.2M378.8 1384.4V1391.2M506.7 1384.4V1391.2M634.6 1384.4V1391.2M762.5 1384.4V1391.2M890.4 1384.4V1391.2"/>
<path stroke="#111" stroke-width="0.95" fill="none" d="M148.6 1384.4V1389.9M174.2 1384.4V1389.9M199.7 1384.4V1389.9M225.3 1384.4V1389.9M276.5 1384.4V1389.9M302.1 1384.4V1389.9M327.6 1384.4V1389.9M353.2 1384.4V1389.9M404.4 1384.4V1389.9M430 1384.4V1389.9M455.5 1384.4V1389.9M481.1 1384.4V1389.9M532.3 1384.4V1389.9M557.9 1384.4V1389.9M583.4 1384.4V1389.9M609 1384.4V1389.9M660.2 1384.4V1389.9M685.8 1384.4V1389.9M711.3 1384.4V1389.9M736.9 1384.4V1389.9M788.1 1384.4V1389.9M813.7 1384.4V1389.9M839.2 1384.4V1389.9M864.8 1384.4V1389.9"/>
<path stroke="#686868" stroke-width="1.45" fill="none" d="M116 1384.4H891"/>
<g fill="#548235" stroke="#2f4c1c" stroke-width="0.65">
<circle cx="154.5" cy="1367.4" r="7.05"/><circle cx="155.1" cy="1369.9" r="7.05"/><circle cx="155.8" cy="1370.6" r="7.05"/><circle cx="156.4" cy="1371.3" r="7.05"/><circle cx="157.1" cy="1372.3" r="7.05"/><circle cx="157.7" cy="1371.6" r="7.05"/><circle cx="158.3" cy="1373.7" r="7.05"/><circle cx="159" cy="1370.7" r="7.05"/><circle cx="159.6" cy="1376" r="7.05"/><circle cx="160.3" cy="1373.4" r="7.05"/><circle cx="160.9" cy="1376.4" r="7.05"/><circle cx="161.5" cy="1375" r="7.05"/><circle cx="162.2" cy="1375.2" r="7.05"/><circle cx="162.8" cy="1376" r="7.05"/><circle cx="163.5" cy="1377.1" r="7.05"/><circle cx="164.1" cy="1374.7" r="7.05"/><circle cx="164.7" cy="1375.8" r="7.05"/><circle cx="165.4" cy="1375.5" r="7.05"/><circle cx="166" cy="1380.4" r="7.05"/><circle cx="166.7" cy="1377.2" r="7.05"/><circle cx="167.3" cy="1377.6" r="7.05"/><circle cx="167.9" cy="1378.9" r="7.05"/><circle cx="168.6" cy="1374.9" r="7.05"/><circle cx="169.2" cy="1379.6" r="7.05"/><circle cx="169.8" cy="1377.8" r="7.05"/><circle cx="170.5" cy="1377.9" r="7.05"/><circle cx="171.1" cy="1373.3" r="7.05"/><circle cx="171.8" cy="1379" r="7.05"/><circle cx="172.4" cy="1376.2" r="7.05"/><circle cx="173" cy="1376.2" r="7.05"/><circle cx="173.7" cy="1376.3" r="7.05"/><circle cx="174.3" cy="1382.4" r="7.05"/><circle cx="175" cy="1378.7" r="7.05"/><circle cx="175.6" cy="1379.6" r="7.05"/><circle cx="176.2" cy="1379.8" r="7.05"/><circle cx="176.9" cy="1380.9" r="7.05"/><circle cx="177.5" cy="1379" r="7.05"/><circle cx="178.2" cy="1378.3" r="7.05"/><circle cx="178.8" cy="1378.3" r="7.05"/><circle cx="179.4" cy="1380" r="7.05"/><circle cx="180.1" cy="1380" r="7.05"/><circle cx="180.7" cy="1378.1" r="7.05"/><circle cx="181.4" cy="1376.9" r="7.05"/><circle cx="182" cy="1381.6" r="7.05"/><circle cx="182.6" cy="1380.7" r="7.05"/><circle cx="183.3" cy="1379.4" r="7.05"/><circle cx="183.9" cy="1378.8" r="7.05"/><circle cx="184.6" cy="1380.8" r="7.05"/><circle cx="185.2" cy="1378.4" r="7.05"/><circle cx="185.8" cy="1378.9" r="7.05"/><circle cx="186.5" cy="1375.4" r="7.05"/><circle cx="187.1" cy="1380.7" r="7.05"/><circle cx="187.8" cy="1380.2" r="7.05"/><circle cx="188.4" cy="1378.7" r="7.05"/><circle cx="189" cy="1380" r="7.05"/><circle cx="189.7" cy="1378.3" r="7.05"/><circle cx="190.3" cy="1380.5" r="7.05"/><circle cx="191" cy="1379.1" r="7.05"/><circle cx="191.6" cy="1378.1" r="7.05"/><circle cx="192.2" cy="1378.4" r="7.05"/><circle cx="192.9" cy="1380.7" r="7.05"/><circle cx="193.5" cy="1379.2" r="7.05"/><circle cx="194.1" cy="1380.5" r="7.05"/><circle cx="194.8" cy="1377.5" r="7.05"/><circle cx="195.4" cy="1379.4" r="7.05"/><circle cx="196.1" cy="1378.9" r="7.05"/><circle cx="196.7" cy="1380.9" r="7.05"/><circle cx="197.3" cy="1377.6" r="7.05"/><circle cx="198" cy="1379.6" r="7.05"/><circle cx="198.6" cy="1379.8" r="7.05"/><circle cx="199.3" cy="1380.5" r="7.05"/><circle cx="199.9" cy="1379.9" r="7.05"/><circle cx="200.5" cy="1380.6" r="7.05"/><circle cx="201.2" cy="1380.7" r="7.05"/><circle cx="201.8" cy="1378.1" r="7.05"/><circle cx="202.5" cy="1377.3" r="7.05"/><circle cx="203.1" cy="1379.8" r="7.05"/><circle cx="203.7" cy="1379.6" r="7.05"/><circle cx="204.4" cy="1379.8" r="7.05"/><circle cx="205" cy="1379.4" r="7.05"/><circle cx="205.7" cy="1379.3" r="7.05"/><circle cx="206.3" cy="1378" r="7.05"/><circle cx="206.9" cy="1376.8" r="7.05"/><circle cx="207.6" cy="1378.7" r="7.05"/><circle cx="208.2" cy="1378.6" r="7.05"/><circle cx="208.9" cy="1376.6" r="7.05"/><circle cx="209.5" cy="1378.1" r="7.05"/><circle cx="210.1" cy="1376.1" r="7.05"/><circle cx="210.8" cy="1380.4" r="7.05"/><circle cx="211.4" cy="1376.2" r="7.05"/><circle cx="212.1" cy="1377.8" r="7.05"/><circle cx="212.7" cy="1381" r="7.05"/><circle cx="213.3" cy="1376.1" r="7.05"/><circle cx="214" cy="1375.4" r="7.05"/><circle cx="214.6" cy="1377.4" r="7.05"/><circle cx="215.3" cy="1381.3" r="7.05"/><circle cx="215.9" cy="1379.8" r="7.05"/><circle cx="216.5" cy="1378.8" r="7.05"/><circle cx="217.2" cy="1377.8" r="7.05"/><circle cx="217.8" cy="1378.1" r="7.05"/><circle cx="218.4" cy="1376.9" r="7.05"/><circle cx="219.1" cy="1379.2" r="7.05"/><circle cx="219.7" cy="1380.6" r="7.05"/><circle cx="220.4" cy="1379.2" r="7.05"/><circle cx="221" cy="1380.8" r="7.05"/><circle cx="221.6" cy="1382.2" r="7.05"/><circle cx="222.3" cy="1380.1" r="7.05"/><circle cx="222.9" cy="1377.9" r="7.05"/><circle cx="223.6" cy="1376" r="7.05"/><circle cx="224.2" cy="1380.1" r="7.05"/><circle cx="224.8" cy="1377" r="7.05"/><circle cx="225.5" cy="1380.2" r="7.05"/><circle cx="226.1" cy="1375.4" r="7.05"/><circle cx="226.8" cy="1378.6" r="7.05"/><circle cx="227.4" cy="1379.8" r="7.05"/><circle cx="228" cy="1378" r="7.05"/><circle cx="228.7" cy="1378.2" r="7.05"/><circle cx="229.3" cy="1379.5" r="7.05"/><circle cx="230" cy="1376.8" r="7.05"/><circle cx="230.6" cy="1378.3" r="7.05"/><circle cx="231.2" cy="1377.6" r="7.05"/><circle cx="231.9" cy="1378.3" r="7.05"/><circle cx="232.5" cy="1380.7" r="7.05"/><circle cx="233.2" cy="1378.7" r="7.05"/><circle cx="233.8" cy="1378.1" r="7.05"/><circle cx="234.4" cy="1377.6" r="7.05"/><circle cx="235.1" cy="1381.1" r="7.05"/><circle cx="235.7" cy="1378.3" r="7.05"/><circle cx="236.4" cy="1380.1" r="7.05"/><circle cx="237" cy="1378.4" r="7.05"/><circle cx="237.6" cy="1376" r="7.05"/><circle cx="238.3" cy="1375.1" r="7.05"/><circle cx="238.9" cy="1378.2" r="7.05"/><circle cx="239.6" cy="1379.4" r="7.05"/><circle cx="240.2" cy="1374.8" r="7.05"/><circle cx="240.8" cy="1377.9" r="7.05"/><circle cx="241.5" cy="1375.9" r="7.05"/><circle cx="242.1" cy="1379.4" r="7.05"/><circle cx="242.8" cy="1377.3" r="7.05"/><circle cx="243.4" cy="1375.4" r="7.05"/><circle cx="244" cy="1380.4" r="7.05"/><circle cx="244.7" cy="1379" r="7.05"/><circle cx="245.3" cy="1374.6" r="7.05"/><circle cx="245.9" cy="1377.5" r="7.05"/><circle cx="246.6" cy="1373.6" r="7.05"/><circle cx="247.2" cy="1375.2" r="7.05"/><circle cx="247.9" cy="1374.2" r="7.05"/><circle cx="248.5" cy="1377.1" r="7.05"/><circle cx="249.1" cy="1377.5" r="7.05"/><circle cx="249.8" cy="1374.2" r="7.05"/><circle cx="250.4" cy="1380.2" r="7.05"/><circle cx="251.1" cy="1373.5" r="7.05"/><circle cx="251.7" cy="1376.7" r="7.05"/><circle cx="252.3" cy="1374.8" r="7.05"/><circle cx="253" cy="1375.8" r="7.05"/><circle cx="253.6" cy="1376.8" r="7.05"/><circle cx="254.3" cy="1376.4" r="7.05"/><circle cx="254.9" cy="1374.2" r="7.05"/><circle cx="255.5" cy="1378.9" r="7.05"/><circle cx="256.2" cy="1377.3" r="7.05"/><circle cx="256.8" cy="1376.3" r="7.05"/><circle cx="257.5" cy="1375.1" r="7.05"/><circle cx="258.1" cy="1375.5" r="7.05"/><circle cx="258.7" cy="1372.8" r="7.05"/><circle cx="259.4" cy="1371.8" r="7.05"/><circle cx="260" cy="1376.1" r="7.05"/><circle cx="260.7" cy="1374.5" r="7.05"/><circle cx="261.3" cy="1375.6" r="7.05"/><circle cx="261.9" cy="1372.6" r="7.05"/><circle cx="262.6" cy="1375.3" r="7.05"/><circle cx="263.2" cy="1373.4" r="7.05"/><circle cx="263.9" cy="1378" r="7.05"/><circle cx="264.5" cy="1378.3" r="7.05"/><circle cx="265.1" cy="1372.1" r="7.05"/><circle cx="265.8" cy="1376.3" r="7.05"/><circle cx="266.4" cy="1377.6" r="7.05"/><circle cx="267.1" cy="1380" r="7.05"/><circle cx="267.7" cy="1376.3" r="7.05"/><circle cx="268.3" cy="1376.2" r="7.05"/><circle cx="269" cy="1373.4" r="7.05"/><circle cx="269.6" cy="1377.4" r="7.05"/><circle cx="270.2" cy="1376.3" r="7.05"/><circle cx="270.9" cy="1376.6" r="7.05"/><circle cx="271.5" cy="1374.7" r="7.05"/><circle cx="272.2" cy="1372.5" r="7.05"/><circle cx="272.8" cy="1376.6" r="7.05"/><circle cx="273.4" cy="1374.8" r="7.05"/><circle cx="274.1" cy="1376.3" r="7.05"/><circle cx="274.7" cy="1377.2" r="7.05"/><circle cx="275.4" cy="1377.3" r="7.05"/><circle cx="276" cy="1375.5" r="7.05"/><circle cx="276.6" cy="1377.7" r="7.05"/><circle cx="277.3" cy="1374.5" r="7.05"/><circle cx="277.9" cy="1374.5" r="7.05"/><circle cx="278.6" cy="1373.7" r="7.05"/><circle cx="279.2" cy="1374.9" r="7.05"/><circle cx="279.8" cy="1373.4" r="7.05"/><circle cx="280.5" cy="1375.6" r="7.05"/><circle cx="281.1" cy="1375.5" r="7.05"/><circle cx="281.8" cy="1375.8" r="7.05"/><circle cx="282.4" cy="1371.6" r="7.05"/><circle cx="283" cy="1374.2" r="7.05"/><circle cx="283.7" cy="1375.1" r="7.05"/><circle cx="284.3" cy="1377.5" r="7.05"/><circle cx="285" cy="1374.1" r="7.05"/><circle cx="285.6" cy="1376" r="7.05"/><circle cx="286.2" cy="1378.2" r="7.05"/><circle cx="286.9" cy="1374.6" r="7.05"/><circle cx="287.5" cy="1374.4" r="7.05"/><circle cx="288.2" cy="1373.3" r="7.05"/><circle cx="288.8" cy="1371.9" r="7.05"/><circle cx="289.4" cy="1375.9" r="7.05"/><circle cx="290.1" cy="1374.3" r="7.05"/><circle cx="290.7" cy="1374.2" r="7.05"/><circle cx="291.4" cy="1378.2" r="7.05"/><circle cx="292" cy="1372" r="7.05"/><circle cx="292.6" cy="1374.5" r="7.05"/><circle cx="293.3" cy="1372.3" r="7.05"/><circle cx="293.9" cy="1375" r="7.05"/><circle cx="294.6" cy="1374.6" r="7.05"/><circle cx="295.2" cy="1372" r="7.05"/><circle cx="295.8" cy="1374" r="7.05"/><circle cx="296.5" cy="1375.1" r="7.05"/><circle cx="297.1" cy="1377.3" r="7.05"/><circle cx="297.7" cy="1374.6" r="7.05"/><circle cx="298.4" cy="1374.4" r="7.05"/><circle cx="299" cy="1374.2" r="7.05"/><circle cx="299.7" cy="1372.5" r="7.05"/><circle cx="300.3" cy="1371.9" r="7.05"/><circle cx="300.9" cy="1374.9" r="7.05"/><circle cx="301.6" cy="1374.5" r="7.05"/><circle cx="302.2" cy="1373" r="7.05"/><circle cx="302.9" cy="1372.9" r="7.05"/><circle cx="303.5" cy="1374.5" r="7.05"/><circle cx="304.1" cy="1377.4" r="7.05"/><circle cx="304.8" cy="1374.1" r="7.05"/><circle cx="305.4" cy="1375.3" r="7.05"/><circle cx="306.1" cy="1371.9" r="7.05"/><circle cx="306.7" cy="1368.8" r="7.05"/><circle cx="307.3" cy="1373.5" r="7.05"/><circle cx="308" cy="1376" r="7.05"/><circle cx="308.6" cy="1372.1" r="7.05"/><circle cx="309.3" cy="1370.5" r="7.05"/><circle cx="309.9" cy="1375.5" r="7.05"/><circle cx="310.5" cy="1373.8" r="7.05"/><circle cx="311.2" cy="1370.6" r="7.05"/><circle cx="311.8" cy="1374.8" r="7.05"/><circle cx="312.5" cy="1374" r="7.05"/><circle cx="313.1" cy="1371.9" r="7.05"/><circle cx="313.7" cy="1375.2" r="7.05"/><circle cx="314.4" cy="1375.6" r="7.05"/><circle cx="315" cy="1372.4" r="7.05"/><circle cx="315.7" cy="1371.3" r="7.05"/><circle cx="316.3" cy="1372.3" r="7.05"/><circle cx="316.9" cy="1371.5" r="7.05"/><circle cx="317.6" cy="1371.1" r="7.05"/><circle cx="318.2" cy="1375.4" r="7.05"/><circle cx="318.9" cy="1373.4" r="7.05"/><circle cx="319.5" cy="1372.6" r="7.05"/><circle cx="320.1" cy="1373.3" r="7.05"/><circle cx="320.8" cy="1374" r="7.05"/><circle cx="321.4" cy="1373.7" r="7.05"/><circle cx="322" cy="1368.5" r="7.05"/><circle cx="322.7" cy="1372.6" r="7.05"/><circle cx="323.3" cy="1370.8" r="7.05"/><circle cx="324" cy="1370.4" r="7.05"/><circle cx="324.6" cy="1372.8" r="7.05"/><circle cx="325.2" cy="1372.2" r="7.05"/><circle cx="325.9" cy="1371.7" r="7.05"/><circle cx="326.5" cy="1372.9" r="7.05"/><circle cx="327.2" cy="1376.5" r="7.05"/><circle cx="327.8" cy="1374.1" r="7.05"/><circle cx="328.4" cy="1371.3" r="7.05"/><circle cx="329.1" cy="1371.6" r="7.05"/><circle cx="329.7" cy="1371.2" r="7.05"/><circle cx="330.4" cy="1372" r="7.05"/><circle cx="331" cy="1373.7" r="7.05"/><circle cx="331.6" cy="1372.5" r="7.05"/><circle cx="332.3" cy="1372.4" r="7.05"/><circle cx="332.9" cy="1370.7" r="7.05"/><circle cx="333.6" cy="1377.2" r="7.05"/><circle cx="334.2" cy="1373.9" r="7.05"/><circle cx="334.8" cy="1373.8" r="7.05"/><circle cx="335.5" cy="1371.2" r="7.05"/><circle cx="336.1" cy="1372.3" r="7.05"/><circle cx="336.8" cy="1374.2" r="7.05"/><circle cx="337.4" cy="1367.5" r="7.05"/><circle cx="338" cy="1373" r="7.05"/><circle cx="338.7" cy="1373.8" r="7.05"/><circle cx="339.3" cy="1373.6" r="7.05"/><circle cx="340" cy="1374" r="7.05"/><circle cx="340.6" cy="1372.6" r="7.05"/><circle cx="341.2" cy="1371" r="7.05"/><circle cx="341.9" cy="1370.3" r="7.05"/><circle cx="342.5" cy="1369.3" r="7.05"/><circle cx="343.2" cy="1373.3" r="7.05"/><circle cx="343.8" cy="1374.5" r="7.05"/><circle cx="344.4" cy="1371" r="7.05"/><circle cx="345.1" cy="1374.1" r="7.05"/><circle cx="345.7" cy="1369.9" r="7.05"/><circle cx="346.3" cy="1371.3" r="7.05"/><circle cx="347" cy="1374.2" r="7.05"/><circle cx="347.6" cy="1369.7" r="7.05"/><circle cx="348.3" cy="1369.5" r="7.05"/><circle cx="348.9" cy="1375.3" r="7.05"/><circle cx="349.5" cy="1371" r="7.05"/><circle cx="350.2" cy="1372.7" r="7.05"/><circle cx="350.8" cy="1372" r="7.05"/><circle cx="351.5" cy="1373.1" r="7.05"/><circle cx="352.1" cy="1372.7" r="7.05"/><circle cx="352.7" cy="1370.4" r="7.05"/><circle cx="353.4" cy="1369.4" r="7.05"/><circle cx="354" cy="1370.2" r="7.05"/><circle cx="354.7" cy="1371.5" r="7.05"/><circle cx="355.3" cy="1371.7" r="7.05"/><circle cx="355.9" cy="1370.7" r="7.05"/><circle cx="356.6" cy="1369.2" r="7.05"/><circle cx="357.2" cy="1369.2" r="7.05"/><circle cx="357.9" cy="1371" r="7.05"/><circle cx="358.5" cy="1374.3" r="7.05"/><circle cx="359.1" cy="1372.7" r="7.05"/><circle cx="359.8" cy="1371" r="7.05"/><circle cx="360.4" cy="1372.7" r="7.05"/><circle cx="361.1" cy="1370.2" r="7.05"/><circle cx="361.7" cy="1371.5" r="7.05"/><circle cx="362.3" cy="1370.5" r="7.05"/><circle cx="363" cy="1368.4" r="7.05"/><circle cx="363.6" cy="1371.2" r="7.05"/><circle cx="364.3" cy="1372" r="7.05"/><circle cx="364.9" cy="1371.5" r="7.05"/><circle cx="365.5" cy="1370" r="7.05"/><circle cx="366.2" cy="1373.5" r="7.05"/><circle cx="366.8" cy="1371.9" r="7.05"/><circle cx="367.5" cy="1372.1" r="7.05"/><circle cx="368.1" cy="1372.8" r="7.05"/><circle cx="368.7" cy="1372.6" r="7.05"/><circle cx="369.4" cy="1374.3" r="7.05"/><circle cx="370" cy="1369.4" r="7.05"/><circle cx="370.7" cy="1370.2" r="7.05"/><circle cx="371.3" cy="1372.1" r="7.05"/><circle cx="371.9" cy="1371.7" r="7.05"/><circle cx="372.6" cy="1369.9" r="7.05"/><circle cx="373.2" cy="1369.5" r="7.05"/><circle cx="373.8" cy="1371.9" r="7.05"/><circle cx="374.5" cy="1367.8" r="7.05"/><circle cx="375.1" cy="1369.4" r="7.05"/><circle cx="375.8" cy="1369.5" r="7.05"/><circle cx="376.4" cy="1370.1" r="7.05"/><circle cx="377" cy="1370.4" r="7.05"/><circle cx="377.7" cy="1370.8" r="7.05"/><circle cx="378.3" cy="1366.4" r="7.05"/><circle cx="379" cy="1368.6" r="7.05"/><circle cx="379.6" cy="1372.3" r="7.05"/><circle cx="380.2" cy="1371.2" r="7.05"/><circle cx="380.9" cy="1372.7" r="7.05"/><circle cx="381.5" cy="1371.7" r="7.05"/><circle cx="382.2" cy="1369.6" r="7.05"/><circle cx="382.8" cy="1369.5" r="7.05"/><circle cx="383.4" cy="1370.3" r="7.05"/><circle cx="384.1" cy="1371.4" r="7.05"/><circle cx="384.7" cy="1370.3" r="7.05"/><circle cx="385.4" cy="1368.5" r="7.05"/><circle cx="386" cy="1369.2" r="7.05"/><circle cx="386.6" cy="1368.4" r="7.05"/><circle cx="387.3" cy="1369.1" r="7.05"/><circle cx="387.9" cy="1366.4" r="7.05"/><circle cx="388.6" cy="1368.4" r="7.05"/><circle cx="389.2" cy="1367.1" r="7.05"/><circle cx="389.8" cy="1373.3" r="7.05"/><circle cx="390.5" cy="1367.2" r="7.05"/><circle cx="391.1" cy="1369.2" r="7.05"/><circle cx="391.8" cy="1366.9" r="7.05"/><circle cx="392.4" cy="1371.6" r="7.05"/><circle cx="393" cy="1372.1" r="7.05"/><circle cx="393.7" cy="1370.4" r="7.05"/><circle cx="394.3" cy="1370.8" r="7.05"/><circle cx="395" cy="1370.4" r="7.05"/><circle cx="395.6" cy="1369.7" r="7.05"/><circle cx="396.2" cy="1368" r="7.05"/><circle cx="396.9" cy="1367.4" r="7.05"/><circle cx="397.5" cy="1367.5" r="7.05"/><circle cx="398.1" cy="1370.2" r="7.05"/><circle cx="398.8" cy="1370.5" r="7.05"/><circle cx="399.4" cy="1370.3" r="7.05"/><circle cx="400.1" cy="1369.1" r="7.05"/><circle cx="400.7" cy="1367" r="7.05"/><circle cx="401.3" cy="1368.8" r="7.05"/><circle cx="402" cy="1369.7" r="7.05"/><circle cx="402.6" cy="1365.4" r="7.05"/><circle cx="403.3" cy="1367.2" r="7.05"/><circle cx="403.9" cy="1370.7" r="7.05"/><circle cx="404.5" cy="1365.1" r="7.05"/><circle cx="405.2" cy="1369.1" r="7.05"/><circle cx="405.8" cy="1366.5" r="7.05"/><circle cx="406.5" cy="1369.6" r="7.05"/><circle cx="407.1" cy="1365.4" r="7.05"/><circle cx="407.7" cy="1364.8" r="7.05"/><circle cx="408.4" cy="1365.6" r="7.05"/><circle cx="409" cy="1365.2" r="7.05"/><circle cx="409.7" cy="1364.9" r="7.05"/><circle cx="410.3" cy="1364.9" r="7.05"/><circle cx="410.9" cy="1361.1" r="7.05"/><circle cx="411.6" cy="1364" r="7.05"/><circle cx="412.2" cy="1363.9" r="7.05"/><circle cx="412.9" cy="1359.7" r="7.05"/><circle cx="413.5" cy="1361" r="7.05"/><circle cx="414.1" cy="1359.2" r="7.05"/><circle cx="414.8" cy="1358.9" r="7.05"/><circle cx="415.4" cy="1359.6" r="7.05"/><circle cx="416.1" cy="1354.1" r="7.05"/><circle cx="416.7" cy="1355.8" r="7.05"/><circle cx="417.3" cy="1357.7" r="7.05"/><circle cx="418" cy="1349.9" r="7.05"/><circle cx="443.8" cy="1300.5" r="7.05"/><circle cx="443.1" cy="1296.5" r="7.05"/><circle cx="443.2" cy="1297.2" r="7.05"/><circle cx="447.1" cy="1299.8" r="7.05"/><circle cx="447.2" cy="1290.9" r="7.05"/><circle cx="447.7" cy="1289.9" r="7.05"/><circle cx="446.3" cy="1288.6" r="7.05"/><circle cx="450" cy="1289.6" r="7.05"/><circle cx="447.3" cy="1287.3" r="7.05"/><circle cx="450.4" cy="1283.8" r="7.05"/><circle cx="449.6" cy="1277.4" r="7.05"/><circle cx="449" cy="1287.3" r="7.05"/><circle cx="449.8" cy="1285.8" r="7.05"/><circle cx="450.6" cy="1277.7" r="7.05"/><circle cx="454.8" cy="1280.9" r="7.05"/><circle cx="453.2" cy="1277" r="7.05"/><circle cx="452.7" cy="1274.1" r="7.05"/><circle cx="453.4" cy="1280.5" r="7.05"/><circle cx="456.2" cy="1276.3" r="7.05"/><circle cx="457.3" cy="1273.4" r="7.05"/><circle cx="456.3" cy="1266.4" r="7.05"/><circle cx="457.2" cy="1272.8" r="7.05"/><circle cx="457.5" cy="1275.4" r="7.05"/><circle cx="460.5" cy="1268.8" r="7.05"/><circle cx="461.2" cy="1264.2" r="7.05"/><circle cx="459.3" cy="1261.7" r="7.05"/><circle cx="461.3" cy="1263" r="7.05"/><circle cx="460.1" cy="1261" r="7.05"/><circle cx="461.3" cy="1254" r="7.05"/><circle cx="462.4" cy="1260" r="7.05"/><circle cx="461.2" cy="1261.4" r="7.05"/><circle cx="463.8" cy="1254.3" r="7.05"/><circle cx="463.3" cy="1253.5" r="7.05"/><circle cx="466.1" cy="1257.9" r="7.05"/><circle cx="464.1" cy="1252.5" r="7.05"/><circle cx="467.1" cy="1253" r="7.05"/><circle cx="465.1" cy="1252.1" r="7.05"/><circle cx="468.1" cy="1255.4" r="7.05"/><circle cx="466.4" cy="1247.7" r="7.05"/><circle cx="468" cy="1250.1" r="7.05"/><circle cx="469.4" cy="1252.9" r="7.05"/><circle cx="471.9" cy="1245.9" r="7.05"/><circle cx="469.4" cy="1249.5" r="7.05"/><circle cx="470.2" cy="1243" r="7.05"/><circle cx="473" cy="1244.2" r="7.05"/><circle cx="471.8" cy="1242.4" r="7.05"/><circle cx="474.4" cy="1239.7" r="7.05"/><circle cx="472" cy="1242.6" r="7.05"/><circle cx="472.8" cy="1229.6" r="7.05"/><circle cx="477.2" cy="1228.8" r="7.05"/><circle cx="475.9" cy="1239.2" r="7.05"/><circle cx="477.7" cy="1234.6" r="7.05"/><circle cx="478.5" cy="1230.6" r="7.05"/><circle cx="477.9" cy="1228.7" r="7.05"/><circle cx="478.3" cy="1227.3" r="7.05"/><circle cx="480.9" cy="1225.7" r="7.05"/><circle cx="481.3" cy="1228.4" r="7.05"/><circle cx="481.8" cy="1228.1" r="7.05"/><circle cx="480.1" cy="1228.4" r="7.05"/><circle cx="482.4" cy="1220.4" r="7.05"/><circle cx="483.1" cy="1221.5" r="7.05"/><circle cx="481.9" cy="1222.6" r="7.05"/><circle cx="484.3" cy="1217" r="7.05"/><circle cx="485.7" cy="1214.3" r="7.05"/><circle cx="484.5" cy="1215.4" r="7.05"/><circle cx="487.4" cy="1218.3" r="7.05"/><circle cx="486.3" cy="1205.9" r="7.05"/><circle cx="488.6" cy="1204.6" r="7.05"/><circle cx="488.4" cy="1205.1" r="7.05"/><circle cx="489.6" cy="1211.5" r="7.05"/><circle cx="489.8" cy="1204" r="7.05"/><circle cx="488.8" cy="1204.3" r="7.05"/><circle cx="490.9" cy="1204.1" r="7.05"/><circle cx="491.4" cy="1203.3" r="7.05"/><circle cx="492.8" cy="1204.9" r="7.05"/><circle cx="493.5" cy="1192.4" r="7.05"/><circle cx="492.6" cy="1200.7" r="7.05"/><circle cx="491.5" cy="1194.4" r="7.05"/><circle cx="493.2" cy="1193.4" r="7.05"/><circle cx="495.2" cy="1205" r="7.05"/><circle cx="495.2" cy="1193.3" r="7.05"/><circle cx="495.8" cy="1192.2" r="7.05"/><circle cx="497.1" cy="1190.1" r="7.05"/><circle cx="496.6" cy="1193.4" r="7.05"/><circle cx="496.9" cy="1189.5" r="7.05"/><circle cx="496.6" cy="1187.1" r="7.05"/><circle cx="498.1" cy="1185.8" r="7.05"/><circle cx="500.2" cy="1180.3" r="7.05"/><circle cx="501.9" cy="1185.2" r="7.05"/><circle cx="500.8" cy="1185.5" r="7.05"/><circle cx="501.2" cy="1186.3" r="7.05"/><circle cx="501.5" cy="1188.2" r="7.05"/><circle cx="501.7" cy="1176.7" r="7.05"/><circle cx="501.4" cy="1189.2" r="7.05"/><circle cx="503.5" cy="1178.6" r="7.05"/><circle cx="504.4" cy="1180.8" r="7.05"/><circle cx="504.2" cy="1181.2" r="7.05"/><circle cx="506.7" cy="1173.4" r="7.05"/><circle cx="505.2" cy="1169.1" r="7.05"/><circle cx="508.6" cy="1174.8" r="7.05"/><circle cx="506.8" cy="1164.3" r="7.05"/><circle cx="509.8" cy="1172.4" r="7.05"/><circle cx="508" cy="1161.5" r="7.05"/><circle cx="509.3" cy="1164.8" r="7.05"/><circle cx="511.1" cy="1158.8" r="7.05"/><circle cx="511.3" cy="1153.1" r="7.05"/><circle cx="512.4" cy="1156.8" r="7.05"/><circle cx="511.6" cy="1164.4" r="7.05"/><circle cx="513" cy="1154.6" r="7.05"/><circle cx="512.1" cy="1157.8" r="7.05"/><circle cx="513.1" cy="1150.1" r="7.05"/><circle cx="513.1" cy="1150.3" r="7.05"/><circle cx="516.7" cy="1147.1" r="7.05"/><circle cx="516.6" cy="1157" r="7.05"/><circle cx="516.4" cy="1151.7" r="7.05"/><circle cx="516.7" cy="1137.2" r="7.05"/><circle cx="516.6" cy="1136.5" r="7.05"/><circle cx="519.2" cy="1134.1" r="7.05"/><circle cx="520.5" cy="1134.1" r="7.05"/><circle cx="519.1" cy="1140.8" r="7.05"/><circle cx="520.3" cy="1133.5" r="7.05"/><circle cx="520.9" cy="1138" r="7.05"/><circle cx="523.1" cy="1135.3" r="7.05"/><circle cx="521.6" cy="1135.1" r="7.05"/><circle cx="525.1" cy="1130" r="7.05"/><circle cx="525.2" cy="1129.9" r="7.05"/><circle cx="526" cy="1130.5" r="7.05"/><circle cx="526.1" cy="1123.9" r="7.05"/><circle cx="525" cy="1131.7" r="7.05"/><circle cx="527.7" cy="1131.3" r="7.05"/><circle cx="525.9" cy="1124.3" r="7.05"/><circle cx="526.9" cy="1121.7" r="7.05"/><circle cx="526.4" cy="1122.3" r="7.05"/><circle cx="529.8" cy="1121.5" r="7.05"/><circle cx="528.8" cy="1118.3" r="7.05"/><circle cx="529.5" cy="1117.9" r="7.05"/><circle cx="532.3" cy="1112" r="7.05"/><circle cx="532.3" cy="1110.4" r="7.05"/><circle cx="532.3" cy="1104.8" r="7.05"/><circle cx="533.4" cy="1109.4" r="7.05"/><circle cx="534.6" cy="1099.9" r="7.05"/><circle cx="533.9" cy="1103.8" r="7.05"/><circle cx="535.2" cy="1098.8" r="7.05"/><circle cx="535.4" cy="1103" r="7.05"/><circle cx="536.8" cy="1096.6" r="7.05"/><circle cx="536.6" cy="1105.8" r="7.05"/><circle cx="538.7" cy="1090.6" r="7.05"/><circle cx="538.6" cy="1082.8" r="7.05"/><circle cx="538.3" cy="1085.9" r="7.05"/><circle cx="540.2" cy="1091.6" r="7.05"/><circle cx="541.2" cy="1086.8" r="7.05"/><circle cx="538.9" cy="1084.3" r="7.05"/><circle cx="539.4" cy="1081.2" r="7.05"/><circle cx="540.7" cy="1078.3" r="7.05"/><circle cx="540.8" cy="1073.2" r="7.05"/><circle cx="544.9" cy="1067.6" r="7.05"/><circle cx="545.5" cy="1070.2" r="7.05"/><circle cx="542.4" cy="1057.5" r="7.05"/><circle cx="543.9" cy="1069.5" r="7.05"/><circle cx="544.4" cy="1060.5" r="7.05"/><circle cx="547.2" cy="1056.6" r="7.05"/><circle cx="546.1" cy="1062.6" r="7.05"/><circle cx="546.5" cy="1064" r="7.05"/><circle cx="549.9" cy="1060.9" r="7.05"/><circle cx="550.7" cy="1057.8" r="7.05"/><circle cx="548.9" cy="1046" r="7.05"/><circle cx="549.2" cy="1059.6" r="7.05"/><circle cx="551.4" cy="1050.8" r="7.05"/><circle cx="549.4" cy="1053" r="7.05"/><circle cx="552.9" cy="1056" r="7.05"/><circle cx="553.9" cy="1050.3" r="7.05"/><circle cx="552.8" cy="1045.2" r="7.05"/><circle cx="555.3" cy="1052.7" r="7.05"/><circle cx="553.3" cy="1046.5" r="7.05"/><circle cx="555.7" cy="1041.8" r="7.05"/><circle cx="554.7" cy="1043.6" r="7.05"/><circle cx="556" cy="1041.8" r="7.05"/><circle cx="557.3" cy="1040.9" r="7.05"/><circle cx="559.5" cy="1041.1" r="7.05"/><circle cx="558" cy="1036.9" r="7.05"/><circle cx="557.4" cy="1038.5" r="7.05"/><circle cx="558.3" cy="1031.9" r="7.05"/><circle cx="560.5" cy="1032" r="7.05"/><circle cx="560.4" cy="1032.1" r="7.05"/><circle cx="560.8" cy="1025" r="7.05"/><circle cx="561.5" cy="1044.2" r="7.05"/><circle cx="562.9" cy="1028.9" r="7.05"/><circle cx="563.1" cy="1030.8" r="7.05"/><circle cx="562.9" cy="1027.1" r="7.05"/><circle cx="564.2" cy="1031.2" r="7.05"/><circle cx="567.2" cy="1025.2" r="7.05"/><circle cx="566.7" cy="1028.6" r="7.05"/><circle cx="566.3" cy="1017.7" r="7.05"/><circle cx="565.6" cy="1021.9" r="7.05"/><circle cx="568.6" cy="1023.7" r="7.05"/><circle cx="569.8" cy="1021.8" r="7.05"/><circle cx="571.2" cy="1017.4" r="7.05"/><circle cx="569.6" cy="1015.1" r="7.05"/><circle cx="569.7" cy="1017.7" r="7.05"/><circle cx="569.9" cy="1012.2" r="7.05"/><circle cx="572.4" cy="1009.9" r="7.05"/><circle cx="572.4" cy="1008" r="7.05"/><circle cx="574.9" cy="1001.4" r="7.05"/><circle cx="573.3" cy="1012.5" r="7.05"/><circle cx="574.2" cy="1005" r="7.05"/><circle cx="576" cy="1013.5" r="7.05"/><circle cx="574.6" cy="1000.9" r="7.05"/><circle cx="576.3" cy="1005.7" r="7.05"/><circle cx="577.6" cy="1001" r="7.05"/><circle cx="577" cy="1000.7" r="7.05"/><circle cx="577.4" cy="1013.1" r="7.05"/><circle cx="580" cy="1004.9" r="7.05"/><circle cx="579" cy="1011.6" r="7.05"/><circle cx="578.7" cy="1000.1" r="7.05"/><circle cx="582.1" cy="998" r="7.05"/><circle cx="580.4" cy="1002.1" r="7.05"/><circle cx="581.7" cy="1000.8" r="7.05"/><circle cx="581.1" cy="999.2" r="7.05"/><circle cx="582.5" cy="999.1" r="7.05"/><circle cx="585.3" cy="998.9" r="7.05"/><circle cx="584.1" cy="990.7" r="7.05"/><circle cx="587" cy="995.9" r="7.05"/><circle cx="584.5" cy="995.9" r="7.05"/><circle cx="588.1" cy="1002.2" r="7.05"/><circle cx="588.9" cy="989.2" r="7.05"/><circle cx="586.5" cy="991.5" r="7.05"/><circle cx="590.1" cy="991.7" r="7.05"/><circle cx="590.2" cy="985" r="7.05"/><circle cx="588.7" cy="980.4" r="7.05"/><circle cx="588.8" cy="986.4" r="7.05"/><circle cx="591.5" cy="990.5" r="7.05"/><circle cx="593" cy="993.8" r="7.05"/><circle cx="592.8" cy="984.6" r="7.05"/><circle cx="592.9" cy="984.8" r="7.05"/><circle cx="593" cy="982.2" r="7.05"/><circle cx="595.9" cy="983.6" r="7.05"/><circle cx="594.9" cy="974.1" r="7.05"/><circle cx="597" cy="977.6" r="7.05"/><circle cx="596.3" cy="971.9" r="7.05"/><circle cx="596.2" cy="976.5" r="7.05"/><circle cx="599" cy="985.2" r="7.05"/><circle cx="598.1" cy="978" r="7.05"/><circle cx="599.1" cy="978.8" r="7.05"/><circle cx="598.9" cy="974.7" r="7.05"/><circle cx="601.1" cy="973.8" r="7.05"/><circle cx="601.7" cy="967.9" r="7.05"/><circle cx="601.9" cy="976" r="7.05"/><circle cx="601.3" cy="966.1" r="7.05"/><circle cx="601.6" cy="971.2" r="7.05"/><circle cx="601.3" cy="969.1" r="7.05"/><circle cx="605.7" cy="970.4" r="7.05"/><circle cx="603" cy="969.9" r="7.05"/><circle cx="606.9" cy="961.7" r="7.05"/><circle cx="607" cy="962.4" r="7.05"/><circle cx="607.8" cy="964.6" r="7.05"/><circle cx="606.6" cy="960" r="7.05"/><circle cx="608.3" cy="958" r="7.05"/><circle cx="609.1" cy="963.2" r="7.05"/><circle cx="609.9" cy="959.7" r="7.05"/><circle cx="608.7" cy="949.1" r="7.05"/><circle cx="611.2" cy="951.7" r="7.05"/><circle cx="608.9" cy="953.8" r="7.05"/><circle cx="611.9" cy="950.4" r="7.05"/><circle cx="612" cy="952.1" r="7.05"/><circle cx="612.4" cy="947.3" r="7.05"/><circle cx="613.5" cy="953.7" r="7.05"/><circle cx="614.1" cy="957.1" r="7.05"/><circle cx="613.8" cy="946.4" r="7.05"/><circle cx="616.8" cy="942.3" r="7.05"/><circle cx="614.2" cy="954.4" r="7.05"/><circle cx="615.8" cy="950" r="7.05"/><circle cx="618" cy="940.9" r="7.05"/><circle cx="616.7" cy="950.3" r="7.05"/><circle cx="616.7" cy="949.1" r="7.05"/><circle cx="617.8" cy="933.7" r="7.05"/><circle cx="620.5" cy="943.2" r="7.05"/><circle cx="531.9" cy="1051.9" r="7.05"/><circle cx="532.2" cy="1046" r="7.05"/><circle cx="506" cy="1148.5" r="7.05"/><circle cx="457.7" cy="1257.3" r="7.05"/><circle cx="449" cy="1274.5" r="7.05"/><circle cx="517.5" cy="1128" r="7.05"/><circle cx="560.5" cy="1026" r="7.05"/><circle cx="669.7" cy="878" r="7.05"/><circle cx="670.3" cy="878.5" r="7.05"/><circle cx="671" cy="886.6" r="7.05"/><circle cx="671.6" cy="891.5" r="7.05"/><circle cx="672.3" cy="894.9" r="7.05"/><circle cx="672.9" cy="895.2" r="7.05"/><circle cx="673.5" cy="886.4" r="7.05"/><circle cx="674.2" cy="895.1" r="7.05"/><circle cx="674.8" cy="892.2" r="7.05"/><circle cx="675.5" cy="894.5" r="7.05"/><circle cx="676.1" cy="894.9" r="7.05"/><circle cx="676.7" cy="886.8" r="7.05"/><circle cx="677.4" cy="893.6" r="7.05"/><circle cx="678" cy="890.5" r="7.05"/><circle cx="678.7" cy="893.3" r="7.05"/><circle cx="679.3" cy="888.9" r="7.05"/><circle cx="679.9" cy="890.7" r="7.05"/><circle cx="680.6" cy="894.8" r="7.05"/><circle cx="681.2" cy="896.7" r="7.05"/><circle cx="681.9" cy="884.4" r="7.05"/><circle cx="682.5" cy="894" r="7.05"/><circle cx="683.1" cy="892.4" r="7.05"/><circle cx="683.8" cy="895.4" r="7.05"/><circle cx="684.4" cy="896.6" r="7.05"/><circle cx="685" cy="890.3" r="7.05"/><circle cx="685.7" cy="896.1" r="7.05"/><circle cx="686.3" cy="892.6" r="7.05"/><circle cx="687" cy="895.4" r="7.05"/><circle cx="687.6" cy="894.6" r="7.05"/><circle cx="688.2" cy="896.6" r="7.05"/><circle cx="688.9" cy="891.6" r="7.05"/><circle cx="689.5" cy="899.4" r="7.05"/><circle cx="690.2" cy="899.1" r="7.05"/><circle cx="690.8" cy="899.1" r="7.05"/><circle cx="691.4" cy="895.2" r="7.05"/><circle cx="692.1" cy="895.2" r="7.05"/><circle cx="692.7" cy="892" r="7.05"/><circle cx="693.4" cy="888.1" r="7.05"/><circle cx="694" cy="888.9" r="7.05"/><circle cx="694.6" cy="886.5" r="7.05"/><circle cx="695.3" cy="886.9" r="7.05"/><circle cx="695.9" cy="884" r="7.05"/><circle cx="696.6" cy="883.1" r="7.05"/><circle cx="697.2" cy="883.7" r="7.05"/><circle cx="697.8" cy="884.6" r="7.05"/><circle cx="698.5" cy="886.8" r="7.05"/><circle cx="699.1" cy="884.7" r="7.05"/><circle cx="699.8" cy="885.5" r="7.05"/><circle cx="700.4" cy="883" r="7.05"/><circle cx="701" cy="883.3" r="7.05"/><circle cx="701.7" cy="883.5" r="7.05"/><circle cx="702.3" cy="883.1" r="7.05"/><circle cx="703" cy="881.8" r="7.05"/><circle cx="703.6" cy="884.9" r="7.05"/><circle cx="704.2" cy="878.8" r="7.05"/><circle cx="704.9" cy="882.3" r="7.05"/><circle cx="705.5" cy="879.4" r="7.05"/><circle cx="706.2" cy="884.5" r="7.05"/><circle cx="706.8" cy="875.8" r="7.05"/><circle cx="707.4" cy="881.3" r="7.05"/><circle cx="708.1" cy="872.6" r="7.05"/><circle cx="708.7" cy="879.7" r="7.05"/><circle cx="709.3" cy="876.8" r="7.05"/><circle cx="710" cy="873.1" r="7.05"/><circle cx="710.6" cy="877.3" r="7.05"/><circle cx="711.3" cy="880.5" r="7.05"/><circle cx="711.9" cy="877.7" r="7.05"/><circle cx="712.5" cy="878.7" r="7.05"/><circle cx="713.2" cy="877.8" r="7.05"/><circle cx="713.8" cy="872.7" r="7.05"/><circle cx="714.5" cy="878.4" r="7.05"/><circle cx="715.1" cy="880.3" r="7.05"/><circle cx="715.7" cy="875.4" r="7.05"/><circle cx="716.4" cy="879.5" r="7.05"/><circle cx="717" cy="880.5" r="7.05"/><circle cx="717.7" cy="879.5" r="7.05"/><circle cx="718.3" cy="874.4" r="7.05"/><circle cx="718.9" cy="875.3" r="7.05"/><circle cx="719.6" cy="867.9" r="7.05"/><circle cx="720.2" cy="876.6" r="7.05"/><circle cx="720.9" cy="871.8" r="7.05"/><circle cx="721.5" cy="872.5" r="7.05"/><circle cx="722.1" cy="875.7" r="7.05"/><circle cx="722.8" cy="869.1" r="7.05"/><circle cx="723.4" cy="871.3" r="7.05"/><circle cx="724.1" cy="877.5" r="7.05"/><circle cx="724.7" cy="867.9" r="7.05"/><circle cx="725.3" cy="871.8" r="7.05"/><circle cx="726" cy="867.9" r="7.05"/><circle cx="726.6" cy="863.4" r="7.05"/><circle cx="727.3" cy="871" r="7.05"/><circle cx="727.9" cy="865.5" r="7.05"/><circle cx="728.5" cy="870.5" r="7.05"/><circle cx="729.2" cy="859.9" r="7.05"/><circle cx="729.8" cy="859.4" r="7.05"/><circle cx="730.5" cy="863.9" r="7.05"/><circle cx="731.1" cy="867.7" r="7.05"/><circle cx="731.7" cy="864" r="7.05"/><circle cx="732.4" cy="869.8" r="7.05"/><circle cx="733" cy="865.2" r="7.05"/><circle cx="733.6" cy="872.9" r="7.05"/><circle cx="734.3" cy="853.6" r="7.05"/><circle cx="734.9" cy="858.7" r="7.05"/><circle cx="735.6" cy="858.6" r="7.05"/><circle cx="736.2" cy="863" r="7.05"/><circle cx="736.8" cy="860.9" r="7.05"/><circle cx="737.5" cy="859.7" r="7.05"/><circle cx="738.1" cy="862.5" r="7.05"/><circle cx="738.8" cy="862.6" r="7.05"/><circle cx="739.4" cy="861.5" r="7.05"/><circle cx="740" cy="863.1" r="7.05"/><circle cx="740.7" cy="859.1" r="7.05"/><circle cx="741.3" cy="850" r="7.05"/><circle cx="742" cy="864" r="7.05"/><circle cx="742.6" cy="857.6" r="7.05"/><circle cx="743.2" cy="860.9" r="7.05"/><circle cx="743.9" cy="857.6" r="7.05"/><circle cx="744.5" cy="858.8" r="7.05"/><circle cx="745.2" cy="854.2" r="7.05"/><circle cx="745.8" cy="853.9" r="7.05"/><circle cx="746.4" cy="857.5" r="7.05"/><circle cx="747.1" cy="856.3" r="7.05"/><circle cx="747.7" cy="849" r="7.05"/><circle cx="748.4" cy="852.8" r="7.05"/><circle cx="749" cy="852.2" r="7.05"/><circle cx="749.6" cy="847.1" r="7.05"/><circle cx="750.3" cy="858.3" r="7.05"/><circle cx="750.9" cy="852.1" r="7.05"/><circle cx="751.6" cy="851.5" r="7.05"/><circle cx="752.2" cy="851.4" r="7.05"/><circle cx="752.8" cy="849.9" r="7.05"/><circle cx="753.5" cy="853.6" r="7.05"/><circle cx="754.1" cy="848.8" r="7.05"/><circle cx="754.8" cy="848.8" r="7.05"/><circle cx="755.4" cy="847.2" r="7.05"/><circle cx="756" cy="849.6" r="7.05"/><circle cx="756.7" cy="839.8" r="7.05"/><circle cx="757.3" cy="848.9" r="7.05"/><circle cx="758" cy="851.4" r="7.05"/><circle cx="758.6" cy="839.6" r="7.05"/><circle cx="759.2" cy="840.4" r="7.05"/><circle cx="759.9" cy="836.7" r="7.05"/><circle cx="760.5" cy="840.6" r="7.05"/><circle cx="761.1" cy="841.5" r="7.05"/><circle cx="761.8" cy="843.3" r="7.05"/><circle cx="762.4" cy="839.5" r="7.05"/><circle cx="763.1" cy="839.9" r="7.05"/><circle cx="763.7" cy="833.7" r="7.05"/><circle cx="669.7" cy="878.9" r="7.05"/><circle cx="689.7" cy="900.5" r="7.05"/><circle cx="762.6" cy="835.7" r="7.05"/><circle cx="764.4" cy="843.7" r="7.05"/>
</g>
<g fill="#ff0000" stroke="#a00000" stroke-width="0.65">
<circle cx="136.5" cy="1374.1" r="7.05"/><circle cx="137.1" cy="1373.7" r="7.05"/><circle cx="137.8" cy="1375" r="7.05"/><circle cx="138.4" cy="1373.6" r="7.05"/><circle cx="139.1" cy="1374.9" r="7.05"/><circle cx="139.7" cy="1375" r="7.05"/><circle cx="140.3" cy="1376.2" r="7.05"/><circle cx="141" cy="1375.7" r="7.05"/><circle cx="141.6" cy="1377.6" r="7.05"/><circle cx="142.3" cy="1376" r="7.05"/><circle cx="142.9" cy="1375.3" r="7.05"/><circle cx="143.5" cy="1375.4" r="7.05"/><circle cx="144.2" cy="1376.9" r="7.05"/><circle cx="144.8" cy="1376.9" r="7.05"/><circle cx="145.5" cy="1376" r="7.05"/><circle cx="146.1" cy="1375.6" r="7.05"/><circle cx="146.7" cy="1375.4" r="7.05"/><circle cx="147.4" cy="1375.9" r="7.05"/><circle cx="148" cy="1377.6" r="7.05"/><circle cx="148.7" cy="1376.6" r="7.05"/><circle cx="149.3" cy="1376.9" r="7.05"/><circle cx="149.9" cy="1378.3" r="7.05"/><circle cx="150.6" cy="1376.8" r="7.05"/><circle cx="151.2" cy="1376" r="7.05"/><circle cx="151.8" cy="1375.9" r="7.05"/><circle cx="152.5" cy="1377.6" r="7.05"/><circle cx="153.1" cy="1378.2" r="7.05"/><circle cx="153.8" cy="1377.4" r="7.05"/><circle cx="154.4" cy="1376.4" r="7.05"/><circle cx="155" cy="1379.8" r="7.05"/><circle cx="155.7" cy="1379.5" r="7.05"/><circle cx="156.3" cy="1379.4" r="7.05"/><circle cx="157" cy="1378.2" r="7.05"/><circle cx="157.6" cy="1379.3" r="7.05"/><circle cx="158.2" cy="1378.8" r="7.05"/><circle cx="158.9" cy="1379.2" r="7.05"/><circle cx="159.5" cy="1380.3" r="7.05"/><circle cx="160.2" cy="1380.8" r="7.05"/><circle cx="160.8" cy="1380" r="7.05"/><circle cx="161.4" cy="1380.4" r="7.05"/><circle cx="162.1" cy="1381.4" r="7.05"/><circle cx="162.7" cy="1380" r="7.05"/><circle cx="163.4" cy="1380.7" r="7.05"/><circle cx="164" cy="1380.3" r="7.05"/><circle cx="164.6" cy="1383.6" r="7.05"/><circle cx="165.3" cy="1381.9" r="7.05"/><circle cx="165.9" cy="1381.4" r="7.05"/><circle cx="166.6" cy="1382.2" r="7.05"/><circle cx="167.2" cy="1382.4" r="7.05"/><circle cx="167.8" cy="1382.5" r="7.05"/><circle cx="168.5" cy="1381" r="7.05"/><circle cx="169.1" cy="1382.6" r="7.05"/><circle cx="169.8" cy="1382.3" r="7.05"/><circle cx="170.4" cy="1383.3" r="7.05"/><circle cx="171" cy="1381.9" r="7.05"/><circle cx="171.7" cy="1384" r="7.05"/><circle cx="172.3" cy="1382.3" r="7.05"/><circle cx="173" cy="1382.9" r="7.05"/><circle cx="173.6" cy="1382.9" r="7.05"/><circle cx="174.2" cy="1382.8" r="7.05"/><circle cx="174.9" cy="1383.5" r="7.05"/><circle cx="175.5" cy="1381.7" r="7.05"/><circle cx="176.1" cy="1382" r="7.05"/><circle cx="176.8" cy="1382.6" r="7.05"/><circle cx="177.4" cy="1383.1" r="7.05"/><circle cx="178.1" cy="1384.6" r="7.05"/><circle cx="178.7" cy="1383.6" r="7.05"/><circle cx="179.3" cy="1383.5" r="7.05"/><circle cx="180" cy="1384.2" r="7.05"/><circle cx="180.6" cy="1382.9" r="7.05"/><circle cx="181.3" cy="1385.1" r="7.05"/><circle cx="181.9" cy="1383.2" r="7.05"/><circle cx="182.5" cy="1383.7" r="7.05"/><circle cx="183.2" cy="1383.7" r="7.05"/><circle cx="183.8" cy="1384.3" r="7.05"/><circle cx="184.5" cy="1382.8" r="7.05"/><circle cx="185.1" cy="1383.2" r="7.05"/><circle cx="185.7" cy="1384.3" r="7.05"/><circle cx="186.4" cy="1383.9" r="7.05"/><circle cx="187" cy="1384.2" r="7.05"/><circle cx="187.7" cy="1384.7" r="7.05"/><circle cx="188.3" cy="1383.9" r="7.05"/><circle cx="188.9" cy="1383.6" r="7.05"/><circle cx="189.6" cy="1383.5" r="7.05"/><circle cx="190.2" cy="1383.6" r="7.05"/><circle cx="190.9" cy="1383.2" r="7.05"/><circle cx="191.5" cy="1383.4" r="7.05"/><circle cx="192.1" cy="1383" r="7.05"/><circle cx="192.8" cy="1383.1" r="7.05"/><circle cx="193.4" cy="1385" r="7.05"/><circle cx="194.1" cy="1382" r="7.05"/><circle cx="194.7" cy="1383.1" r="7.05"/><circle cx="195.3" cy="1382.5" r="7.05"/><circle cx="196" cy="1383.5" r="7.05"/><circle cx="196.6" cy="1383.3" r="7.05"/><circle cx="197.3" cy="1382.8" r="7.05"/><circle cx="197.9" cy="1384.4" r="7.05"/><circle cx="198.5" cy="1381.8" r="7.05"/><circle cx="199.2" cy="1383.9" r="7.05"/><circle cx="199.8" cy="1383.6" r="7.05"/><circle cx="200.4" cy="1384" r="7.05"/><circle cx="201.1" cy="1382.4" r="7.05"/><circle cx="201.7" cy="1384.4" r="7.05"/><circle cx="202.4" cy="1383.5" r="7.05"/><circle cx="203" cy="1382.8" r="7.05"/><circle cx="203.6" cy="1383.8" r="7.05"/><circle cx="204.3" cy="1382.8" r="7.05"/><circle cx="204.9" cy="1383.4" r="7.05"/><circle cx="205.6" cy="1383" r="7.05"/><circle cx="206.2" cy="1382.4" r="7.05"/><circle cx="206.8" cy="1382.1" r="7.05"/><circle cx="207.5" cy="1383.1" r="7.05"/><circle cx="208.1" cy="1382.2" r="7.05"/><circle cx="208.8" cy="1383" r="7.05"/><circle cx="209.4" cy="1383.1" r="7.05"/><circle cx="210" cy="1381.9" r="7.05"/><circle cx="210.7" cy="1383.5" r="7.05"/><circle cx="211.3" cy="1381.7" r="7.05"/><circle cx="212" cy="1382.8" r="7.05"/><circle cx="212.6" cy="1381.6" r="7.05"/><circle cx="213.2" cy="1383.7" r="7.05"/><circle cx="213.9" cy="1380.9" r="7.05"/><circle cx="214.5" cy="1380.8" r="7.05"/><circle cx="215.2" cy="1381.4" r="7.05"/><circle cx="215.8" cy="1381" r="7.05"/><circle cx="216.4" cy="1380.5" r="7.05"/><circle cx="217.1" cy="1379.6" r="7.05"/><circle cx="217.7" cy="1379.7" r="7.05"/><circle cx="218.4" cy="1379.5" r="7.05"/><circle cx="219" cy="1379.7" r="7.05"/><circle cx="219.6" cy="1378.7" r="7.05"/><circle cx="220.3" cy="1380.2" r="7.05"/><circle cx="220.9" cy="1378.4" r="7.05"/><circle cx="221.6" cy="1377.6" r="7.05"/><circle cx="222.2" cy="1377" r="7.05"/><circle cx="222.8" cy="1376.7" r="7.05"/><circle cx="223.5" cy="1375.8" r="7.05"/><circle cx="224.1" cy="1376.3" r="7.05"/><circle cx="224.8" cy="1376" r="7.05"/><circle cx="225.4" cy="1375.8" r="7.05"/><circle cx="226" cy="1374.9" r="7.05"/><circle cx="226.7" cy="1374.3" r="7.05"/><circle cx="227.3" cy="1373.8" r="7.05"/><circle cx="227.9" cy="1373.3" r="7.05"/><circle cx="228.6" cy="1372.1" r="7.05"/><circle cx="229.2" cy="1371.8" r="7.05"/><circle cx="229.9" cy="1371.8" r="7.05"/><circle cx="230.5" cy="1371.5" r="7.05"/><circle cx="231.1" cy="1371.7" r="7.05"/><circle cx="231.8" cy="1370.3" r="7.05"/><circle cx="232.4" cy="1370.6" r="7.05"/><circle cx="233.1" cy="1368.8" r="7.05"/><circle cx="233.7" cy="1368.2" r="7.05"/><circle cx="234.3" cy="1368.8" r="7.05"/><circle cx="235" cy="1368.5" r="7.05"/><circle cx="235.6" cy="1365.7" r="7.05"/><circle cx="236.3" cy="1366.1" r="7.05"/><circle cx="236.9" cy="1365.6" r="7.05"/><circle cx="237.5" cy="1365.1" r="7.05"/><circle cx="238.2" cy="1364" r="7.05"/><circle cx="238.8" cy="1363" r="7.05"/><circle cx="239.5" cy="1362.5" r="7.05"/><circle cx="240.1" cy="1362.2" r="7.05"/><circle cx="240.7" cy="1362.3" r="7.05"/><circle cx="241.4" cy="1360.2" r="7.05"/><circle cx="242" cy="1359.5" r="7.05"/><circle cx="242.7" cy="1358.9" r="7.05"/><circle cx="243.3" cy="1359" r="7.05"/><circle cx="243.9" cy="1358.3" r="7.05"/><circle cx="244.6" cy="1357.2" r="7.05"/><circle cx="245.2" cy="1356" r="7.05"/><circle cx="245.9" cy="1354.9" r="7.05"/><circle cx="246.5" cy="1353.6" r="7.05"/><circle cx="247.1" cy="1353.2" r="7.05"/><circle cx="247.8" cy="1352.1" r="7.05"/><circle cx="248.4" cy="1351.4" r="7.05"/><circle cx="249.1" cy="1351.1" r="7.05"/><circle cx="249.7" cy="1349.7" r="7.05"/><circle cx="250.3" cy="1349.1" r="7.05"/><circle cx="251" cy="1348.6" r="7.05"/><circle cx="251.6" cy="1347.4" r="7.05"/><circle cx="252.2" cy="1344.5" r="7.05"/><circle cx="252.9" cy="1344.7" r="7.05"/><circle cx="253.5" cy="1344.5" r="7.05"/><circle cx="254.2" cy="1343.7" r="7.05"/><circle cx="254.8" cy="1340" r="7.05"/><circle cx="255.4" cy="1341.1" r="7.05"/><circle cx="256.1" cy="1338.3" r="7.05"/><circle cx="256.7" cy="1337" r="7.05"/><circle cx="257.4" cy="1336" r="7.05"/><circle cx="258" cy="1336.3" r="7.05"/><circle cx="258.6" cy="1335.7" r="7.05"/><circle cx="259.3" cy="1333.9" r="7.05"/><circle cx="259.9" cy="1334.5" r="7.05"/><circle cx="260.6" cy="1330.8" r="7.05"/><circle cx="261.2" cy="1328.1" r="7.05"/><circle cx="261.8" cy="1327.9" r="7.05"/><circle cx="262.5" cy="1327.2" r="7.05"/><circle cx="263.1" cy="1325.4" r="7.05"/><circle cx="263.8" cy="1324.7" r="7.05"/><circle cx="264.4" cy="1323" r="7.05"/><circle cx="265" cy="1321.7" r="7.05"/><circle cx="265.7" cy="1321.8" r="7.05"/><circle cx="266.3" cy="1320.2" r="7.05"/><circle cx="267" cy="1317.6" r="7.05"/><circle cx="267.6" cy="1316.6" r="7.05"/><circle cx="268.2" cy="1314.6" r="7.05"/><circle cx="268.9" cy="1312.7" r="7.05"/><circle cx="269.5" cy="1311.7" r="7.05"/><circle cx="270.2" cy="1310.6" r="7.05"/><circle cx="270.8" cy="1307.8" r="7.05"/><circle cx="271.4" cy="1306.9" r="7.05"/><circle cx="272.1" cy="1304.5" r="7.05"/><circle cx="272.7" cy="1301.3" r="7.05"/><circle cx="273.4" cy="1300" r="7.05"/><circle cx="274" cy="1296.1" r="7.05"/><circle cx="274.6" cy="1297.4" r="7.05"/><circle cx="275.3" cy="1294.3" r="7.05"/><circle cx="275.9" cy="1292.4" r="7.05"/><circle cx="276.6" cy="1289.6" r="7.05"/><circle cx="277.2" cy="1287.6" r="7.05"/><circle cx="277.8" cy="1284.2" r="7.05"/><circle cx="278.5" cy="1283" r="7.05"/><circle cx="279.1" cy="1279.6" r="7.05"/><circle cx="279.7" cy="1277.3" r="7.05"/><circle cx="280.4" cy="1275" r="7.05"/><circle cx="281" cy="1273.4" r="7.05"/><circle cx="281.7" cy="1270.2" r="7.05"/><circle cx="282.3" cy="1268.5" r="7.05"/><circle cx="282.9" cy="1263.7" r="7.05"/><circle cx="283.6" cy="1262.7" r="7.05"/><circle cx="284.2" cy="1259.6" r="7.05"/><circle cx="284.9" cy="1257.8" r="7.05"/><circle cx="285.5" cy="1255.2" r="7.05"/><circle cx="286.1" cy="1251.3" r="7.05"/><circle cx="286.8" cy="1249.1" r="7.05"/><circle cx="287.4" cy="1245.7" r="7.05"/><circle cx="288.1" cy="1242.7" r="7.05"/><circle cx="288.7" cy="1240.2" r="7.05"/><circle cx="289.3" cy="1237.5" r="7.05"/><circle cx="290" cy="1236.5" r="7.05"/><circle cx="290.6" cy="1233.3" r="7.05"/><circle cx="291.3" cy="1231.1" r="7.05"/><circle cx="291.9" cy="1227" r="7.05"/><circle cx="292.5" cy="1224.5" r="7.05"/><circle cx="293.2" cy="1222.2" r="7.05"/><circle cx="293.8" cy="1219.3" r="7.05"/><circle cx="294.5" cy="1217.9" r="7.05"/><circle cx="295.1" cy="1213.3" r="7.05"/><circle cx="295.7" cy="1211.8" r="7.05"/><circle cx="296.4" cy="1207.1" r="7.05"/><circle cx="297" cy="1204.3" r="7.05"/><circle cx="297.7" cy="1200.7" r="7.05"/><circle cx="298.3" cy="1197.4" r="7.05"/><circle cx="298.9" cy="1194.5" r="7.05"/><circle cx="299.6" cy="1191.4" r="7.05"/><circle cx="300.2" cy="1188.5" r="7.05"/><circle cx="300.9" cy="1184.3" r="7.05"/><circle cx="301.5" cy="1181.5" r="7.05"/><circle cx="302.1" cy="1177.4" r="7.05"/><circle cx="302.8" cy="1173.7" r="7.05"/><circle cx="303.4" cy="1169.2" r="7.05"/><circle cx="304" cy="1166.3" r="7.05"/><circle cx="304.7" cy="1162.4" r="7.05"/><circle cx="306" cy="1127.5" r="7.05"/><circle cx="306.5" cy="1123" r="7.05"/><circle cx="307.1" cy="1118.9" r="7.05"/><circle cx="343.2" cy="931.9" r="7.05"/><circle cx="343.9" cy="924.5" r="7.05"/><circle cx="343.3" cy="921.4" r="7.05"/><circle cx="344.2" cy="919.2" r="7.05"/><circle cx="345.7" cy="916.1" r="7.05"/><circle cx="345.4" cy="917.1" r="7.05"/><circle cx="346.5" cy="913.3" r="7.05"/><circle cx="347.7" cy="908.4" r="7.05"/><circle cx="347.9" cy="911" r="7.05"/><circle cx="348.4" cy="908.2" r="7.05"/><circle cx="348.6" cy="907.4" r="7.05"/><circle cx="349.7" cy="907.9" r="7.05"/><circle cx="350.9" cy="905" r="7.05"/><circle cx="350.9" cy="900" r="7.05"/><circle cx="351.8" cy="901.7" r="7.05"/><circle cx="352.8" cy="900.9" r="7.05"/><circle cx="352.4" cy="901.3" r="7.05"/><circle cx="353.6" cy="896.2" r="7.05"/><circle cx="353.4" cy="899.6" r="7.05"/><circle cx="354.1" cy="895.9" r="7.05"/><circle cx="354.6" cy="896.4" r="7.05"/><circle cx="356.6" cy="895.7" r="7.05"/><circle cx="356.6" cy="893.7" r="7.05"/><circle cx="357.5" cy="894.3" r="7.05"/><circle cx="358.5" cy="893.4" r="7.05"/><circle cx="358.6" cy="894.5" r="7.05"/><circle cx="358.8" cy="891.1" r="7.05"/><circle cx="359.7" cy="890.9" r="7.05"/><circle cx="360.7" cy="890.7" r="7.05"/><circle cx="361.8" cy="890.5" r="7.05"/><circle cx="361.5" cy="888.7" r="7.05"/><circle cx="363" cy="890" r="7.05"/><circle cx="363.7" cy="887.3" r="7.05"/><circle cx="363" cy="888" r="7.05"/><circle cx="364.9" cy="888.3" r="7.05"/><circle cx="364.6" cy="888.4" r="7.05"/><circle cx="365.2" cy="885.6" r="7.05"/><circle cx="365.4" cy="886.3" r="7.05"/><circle cx="366.9" cy="885.5" r="7.05"/><circle cx="367" cy="882.3" r="7.05"/><circle cx="368.4" cy="885" r="7.05"/><circle cx="369.2" cy="883.5" r="7.05"/><circle cx="370" cy="879.9" r="7.05"/><circle cx="370" cy="882.6" r="7.05"/><circle cx="370.7" cy="877.7" r="7.05"/><circle cx="371.7" cy="878.6" r="7.05"/><circle cx="371.9" cy="880" r="7.05"/><circle cx="372.3" cy="877.7" r="7.05"/><circle cx="373.7" cy="880" r="7.05"/><circle cx="374.5" cy="876.8" r="7.05"/><circle cx="373.7" cy="876" r="7.05"/><circle cx="374.9" cy="877.5" r="7.05"/><circle cx="375.2" cy="876.4" r="7.05"/><circle cx="376" cy="874.9" r="7.05"/><circle cx="376.3" cy="877.1" r="7.05"/><circle cx="377.1" cy="875" r="7.05"/><circle cx="377.9" cy="874.6" r="7.05"/><circle cx="378.4" cy="876.9" r="7.05"/><circle cx="379.2" cy="874.8" r="7.05"/><circle cx="379.8" cy="873.9" r="7.05"/><circle cx="380.6" cy="872.3" r="7.05"/><circle cx="382" cy="869.1" r="7.05"/><circle cx="381.4" cy="869.9" r="7.05"/><circle cx="382" cy="873.4" r="7.05"/><circle cx="383" cy="869.7" r="7.05"/><circle cx="384.5" cy="870.8" r="7.05"/><circle cx="385.1" cy="869.3" r="7.05"/><circle cx="384.9" cy="870.2" r="7.05"/><circle cx="385.6" cy="871.5" r="7.05"/><circle cx="386.1" cy="870" r="7.05"/><circle cx="387.9" cy="868.5" r="7.05"/><circle cx="387.9" cy="868" r="7.05"/><circle cx="388.7" cy="869.6" r="7.05"/><circle cx="388.4" cy="868.1" r="7.05"/><circle cx="390.2" cy="869.2" r="7.05"/><circle cx="391.2" cy="866.9" r="7.05"/><circle cx="391.7" cy="866.7" r="7.05"/><circle cx="391.2" cy="867.8" r="7.05"/><circle cx="392.1" cy="867.4" r="7.05"/><circle cx="392.2" cy="863.4" r="7.05"/><circle cx="393.5" cy="864.4" r="7.05"/><circle cx="394.8" cy="863.9" r="7.05"/><circle cx="395.6" cy="862.9" r="7.05"/><circle cx="396.1" cy="863.5" r="7.05"/><circle cx="396.2" cy="864" r="7.05"/><circle cx="396.3" cy="864.4" r="7.05"/><circle cx="398" cy="860.9" r="7.05"/><circle cx="398.6" cy="862.6" r="7.05"/><circle cx="399.5" cy="863" r="7.05"/><circle cx="400" cy="863.5" r="7.05"/><circle cx="400.5" cy="860.4" r="7.05"/><circle cx="400.2" cy="863" r="7.05"/><circle cx="400.8" cy="862.7" r="7.05"/><circle cx="401.6" cy="861.5" r="7.05"/><circle cx="402.6" cy="861.6" r="7.05"/><circle cx="403.3" cy="860.4" r="7.05"/><circle cx="404.5" cy="858.9" r="7.05"/><circle cx="405" cy="859" r="7.05"/><circle cx="404.4" cy="861.7" r="7.05"/><circle cx="406.3" cy="858.7" r="7.05"/><circle cx="407" cy="859.6" r="7.05"/><circle cx="406.6" cy="859.2" r="7.05"/><circle cx="407.7" cy="861.4" r="7.05"/><circle cx="408.2" cy="857.1" r="7.05"/><circle cx="409.2" cy="857.9" r="7.05"/><circle cx="410.4" cy="856.5" r="7.05"/><circle cx="411" cy="857" r="7.05"/><circle cx="411.4" cy="854.3" r="7.05"/><circle cx="411.8" cy="856.5" r="7.05"/><circle cx="411.8" cy="857.8" r="7.05"/><circle cx="412.1" cy="857.6" r="7.05"/><circle cx="412.7" cy="855.8" r="7.05"/><circle cx="413.8" cy="857.3" r="7.05"/><circle cx="414.5" cy="856.8" r="7.05"/><circle cx="414.9" cy="854.2" r="7.05"/><circle cx="415.8" cy="855.6" r="7.05"/><circle cx="417.2" cy="854.6" r="7.05"/><circle cx="417.9" cy="856.6" r="7.05"/><circle cx="418.7" cy="854.4" r="7.05"/><circle cx="419.3" cy="854.8" r="7.05"/><circle cx="419.3" cy="854.4" r="7.05"/><circle cx="419.5" cy="854.7" r="7.05"/><circle cx="420.2" cy="854.1" r="7.05"/><circle cx="421.9" cy="853.9" r="7.05"/><circle cx="422.3" cy="854.5" r="7.05"/><circle cx="422.9" cy="854.1" r="7.05"/><circle cx="423.1" cy="854" r="7.05"/><circle cx="423.5" cy="853.2" r="7.05"/><circle cx="425" cy="851.1" r="7.05"/><circle cx="425.2" cy="851.4" r="7.05"/><circle cx="424.9" cy="851" r="7.05"/><circle cx="426.5" cy="849.5" r="7.05"/><circle cx="426.7" cy="851.6" r="7.05"/><circle cx="426.9" cy="851.7" r="7.05"/><circle cx="427.6" cy="849.1" r="7.05"/><circle cx="428.4" cy="851.9" r="7.05"/><circle cx="429.4" cy="849.8" r="7.05"/><circle cx="429.3" cy="849.4" r="7.05"/><circle cx="431.4" cy="849.7" r="7.05"/><circle cx="431" cy="850" r="7.05"/><circle cx="432.3" cy="851.6" r="7.05"/><circle cx="432.5" cy="849.8" r="7.05"/><circle cx="433.4" cy="850.8" r="7.05"/><circle cx="434.6" cy="851.3" r="7.05"/><circle cx="434.7" cy="850.3" r="7.05"/><circle cx="435.8" cy="848.7" r="7.05"/><circle cx="436.3" cy="849.8" r="7.05"/><circle cx="436.8" cy="851.1" r="7.05"/><circle cx="437.3" cy="848.4" r="7.05"/><circle cx="437.9" cy="848.5" r="7.05"/><circle cx="438.2" cy="849.3" r="7.05"/><circle cx="439.8" cy="847.5" r="7.05"/><circle cx="439.8" cy="848.8" r="7.05"/><circle cx="440.6" cy="852.2" r="7.05"/><circle cx="441.2" cy="847" r="7.05"/><circle cx="441.9" cy="846.1" r="7.05"/><circle cx="442.5" cy="849.1" r="7.05"/><circle cx="443.2" cy="846.6" r="7.05"/><circle cx="443.8" cy="848.2" r="7.05"/><circle cx="444.4" cy="850.2" r="7.05"/><circle cx="445.1" cy="849.1" r="7.05"/><circle cx="445.7" cy="847.2" r="7.05"/><circle cx="446.4" cy="845.5" r="7.05"/><circle cx="447" cy="844.8" r="7.05"/><circle cx="447.6" cy="845.5" r="7.05"/><circle cx="448.3" cy="844.8" r="7.05"/><circle cx="448.9" cy="849.2" r="7.05"/><circle cx="449.6" cy="845.8" r="7.05"/><circle cx="450.2" cy="845.1" r="7.05"/><circle cx="450.8" cy="845.9" r="7.05"/><circle cx="451.5" cy="843.8" r="7.05"/><circle cx="452.1" cy="846.6" r="7.05"/><circle cx="452.8" cy="847.1" r="7.05"/><circle cx="453.4" cy="846.2" r="7.05"/><circle cx="454" cy="846.6" r="7.05"/><circle cx="454.7" cy="845.2" r="7.05"/><circle cx="455.3" cy="847.9" r="7.05"/><circle cx="455.9" cy="844.3" r="7.05"/><circle cx="456.6" cy="846.4" r="7.05"/><circle cx="457.2" cy="843.8" r="7.05"/><circle cx="457.9" cy="844.6" r="7.05"/><circle cx="458.5" cy="844" r="7.05"/><circle cx="459.1" cy="841.4" r="7.05"/><circle cx="459.8" cy="847" r="7.05"/><circle cx="460.4" cy="843.4" r="7.05"/><circle cx="461.1" cy="845.2" r="7.05"/><circle cx="461.7" cy="844.4" r="7.05"/><circle cx="462.3" cy="845.4" r="7.05"/><circle cx="463" cy="841.6" r="7.05"/><circle cx="463.6" cy="846.4" r="7.05"/><circle cx="464.3" cy="843.3" r="7.05"/><circle cx="464.9" cy="841" r="7.05"/><circle cx="465.5" cy="848.1" r="7.05"/><circle cx="466.2" cy="845.7" r="7.05"/><circle cx="466.8" cy="844.6" r="7.05"/><circle cx="467.5" cy="844.8" r="7.05"/><circle cx="468.1" cy="843" r="7.05"/><circle cx="468.7" cy="844.5" r="7.05"/><circle cx="469.4" cy="845.3" r="7.05"/><circle cx="470" cy="839.5" r="7.05"/><circle cx="470.7" cy="845" r="7.05"/><circle cx="471.3" cy="845.8" r="7.05"/><circle cx="471.9" cy="840.8" r="7.05"/><circle cx="472.6" cy="840.5" r="7.05"/><circle cx="473.2" cy="844.4" r="7.05"/><circle cx="473.9" cy="843" r="7.05"/><circle cx="474.5" cy="844.4" r="7.05"/><circle cx="475.1" cy="840.6" r="7.05"/><circle cx="475.8" cy="841.9" r="7.05"/><circle cx="476.4" cy="841.6" r="7.05"/><circle cx="477.1" cy="841.4" r="7.05"/><circle cx="477.7" cy="842.7" r="7.05"/><circle cx="478.3" cy="847.3" r="7.05"/><circle cx="479" cy="841.2" r="7.05"/><circle cx="479.6" cy="842.2" r="7.05"/><circle cx="480.2" cy="839.6" r="7.05"/><circle cx="480.9" cy="843.4" r="7.05"/><circle cx="481.5" cy="842.7" r="7.05"/><circle cx="482.2" cy="841.4" r="7.05"/><circle cx="482.8" cy="841.9" r="7.05"/><circle cx="483.4" cy="841.2" r="7.05"/><circle cx="484.1" cy="844.8" r="7.05"/><circle cx="484.7" cy="843.7" r="7.05"/><circle cx="485.4" cy="839.8" r="7.05"/><circle cx="486" cy="841.5" r="7.05"/><circle cx="486.6" cy="842.7" r="7.05"/><circle cx="487.3" cy="841.5" r="7.05"/><circle cx="487.9" cy="838.6" r="7.05"/><circle cx="488.6" cy="841.9" r="7.05"/><circle cx="489.2" cy="841.4" r="7.05"/><circle cx="489.8" cy="843.4" r="7.05"/><circle cx="490.5" cy="843.4" r="7.05"/><circle cx="491.1" cy="841.2" r="7.05"/><circle cx="491.8" cy="842.4" r="7.05"/><circle cx="492.4" cy="839.5" r="7.05"/><circle cx="493" cy="841.3" r="7.05"/><circle cx="493.7" cy="842.2" r="7.05"/><circle cx="494.3" cy="842.6" r="7.05"/><circle cx="495" cy="839.4" r="7.05"/><circle cx="495.6" cy="843" r="7.05"/><circle cx="496.2" cy="842.8" r="7.05"/><circle cx="496.9" cy="840.8" r="7.05"/><circle cx="497.5" cy="844.7" r="7.05"/><circle cx="498.2" cy="840.5" r="7.05"/><circle cx="498.8" cy="840.4" r="7.05"/><circle cx="499.4" cy="840.1" r="7.05"/><circle cx="500.1" cy="841.5" r="7.05"/><circle cx="500.7" cy="840.5" r="7.05"/><circle cx="501.4" cy="838.7" r="7.05"/><circle cx="502" cy="844.3" r="7.05"/><circle cx="502.6" cy="842.5" r="7.05"/><circle cx="503.3" cy="844.5" r="7.05"/><circle cx="503.9" cy="839.7" r="7.05"/><circle cx="504.5" cy="839.5" r="7.05"/><circle cx="505.2" cy="839.5" r="7.05"/><circle cx="505.8" cy="839.5" r="7.05"/><circle cx="506.5" cy="837.7" r="7.05"/><circle cx="507.1" cy="838" r="7.05"/><circle cx="507.7" cy="838.4" r="7.05"/><circle cx="508.4" cy="843" r="7.05"/><circle cx="509" cy="841.9" r="7.05"/><circle cx="509.7" cy="838.7" r="7.05"/><circle cx="510.3" cy="842.1" r="7.05"/><circle cx="510.9" cy="838" r="7.05"/><circle cx="511.6" cy="840.3" r="7.05"/><circle cx="512.2" cy="841" r="7.05"/><circle cx="512.9" cy="838.7" r="7.05"/><circle cx="513.5" cy="840.4" r="7.05"/><circle cx="514.1" cy="839.2" r="7.05"/><circle cx="514.8" cy="839.5" r="7.05"/><circle cx="515.4" cy="838.7" r="7.05"/><circle cx="516.1" cy="839.3" r="7.05"/><circle cx="516.7" cy="836.8" r="7.05"/><circle cx="517.3" cy="840.7" r="7.05"/><circle cx="518" cy="839.7" r="7.05"/><circle cx="518.6" cy="837.4" r="7.05"/><circle cx="519.3" cy="838" r="7.05"/><circle cx="519.9" cy="838" r="7.05"/><circle cx="520.5" cy="837.2" r="7.05"/><circle cx="521.2" cy="834.5" r="7.05"/><circle cx="521.8" cy="836.7" r="7.05"/><circle cx="522.5" cy="836.6" r="7.05"/><circle cx="523.1" cy="840" r="7.05"/><circle cx="523.7" cy="837.8" r="7.05"/><circle cx="524.4" cy="837.1" r="7.05"/><circle cx="525" cy="837.4" r="7.05"/><circle cx="525.7" cy="840" r="7.05"/><circle cx="526.3" cy="834.8" r="7.05"/><circle cx="526.9" cy="842" r="7.05"/><circle cx="527.6" cy="838" r="7.05"/><circle cx="528.2" cy="837.4" r="7.05"/><circle cx="528.9" cy="841" r="7.05"/><circle cx="529.5" cy="839.6" r="7.05"/><circle cx="530.1" cy="839.1" r="7.05"/><circle cx="530.8" cy="839.1" r="7.05"/><circle cx="531.4" cy="837.5" r="7.05"/><circle cx="532" cy="837.2" r="7.05"/><circle cx="532.7" cy="836.6" r="7.05"/><circle cx="533.3" cy="837" r="7.05"/><circle cx="534" cy="839.9" r="7.05"/><circle cx="534.6" cy="838.1" r="7.05"/><circle cx="535.2" cy="835.1" r="7.05"/><circle cx="535.9" cy="837.3" r="7.05"/><circle cx="536.5" cy="841.6" r="7.05"/><circle cx="537.2" cy="838.7" r="7.05"/><circle cx="537.8" cy="839.8" r="7.05"/><circle cx="538.4" cy="840.5" r="7.05"/><circle cx="539.1" cy="841.3" r="7.05"/><circle cx="539.7" cy="840.8" r="7.05"/><circle cx="540.4" cy="838.4" r="7.05"/><circle cx="541" cy="837.3" r="7.05"/><circle cx="541.6" cy="837" r="7.05"/><circle cx="542.3" cy="833.2" r="7.05"/><circle cx="542.9" cy="837.5" r="7.05"/><circle cx="543.6" cy="840.3" r="7.05"/><circle cx="544.2" cy="838.7" r="7.05"/><circle cx="544.8" cy="836.8" r="7.05"/><circle cx="545.5" cy="840.9" r="7.05"/><circle cx="546.1" cy="839.2" r="7.05"/><circle cx="546.8" cy="840.2" r="7.05"/><circle cx="547.4" cy="838.6" r="7.05"/><circle cx="548" cy="841" r="7.05"/><circle cx="548.7" cy="837.4" r="7.05"/><circle cx="549.3" cy="834.3" r="7.05"/><circle cx="550" cy="835.9" r="7.05"/><circle cx="550.6" cy="837.8" r="7.05"/><circle cx="551.2" cy="835.5" r="7.05"/><circle cx="551.9" cy="838.8" r="7.05"/><circle cx="552.5" cy="836" r="7.05"/><circle cx="553.2" cy="835.8" r="7.05"/><circle cx="553.8" cy="839.5" r="7.05"/><circle cx="554.4" cy="837.9" r="7.05"/><circle cx="555.1" cy="840.2" r="7.05"/><circle cx="555.7" cy="838.5" r="7.05"/><circle cx="556.3" cy="838.8" r="7.05"/><circle cx="557" cy="834.7" r="7.05"/><circle cx="557.6" cy="837.7" r="7.05"/><circle cx="558.3" cy="834.2" r="7.05"/><circle cx="558.9" cy="836" r="7.05"/><circle cx="559.5" cy="837.4" r="7.05"/><circle cx="560.2" cy="835.3" r="7.05"/><circle cx="560.8" cy="835.6" r="7.05"/><circle cx="561.5" cy="831.9" r="7.05"/><circle cx="562.1" cy="834.7" r="7.05"/><circle cx="562.7" cy="836.3" r="7.05"/><circle cx="563.4" cy="839.7" r="7.05"/><circle cx="564" cy="836.1" r="7.05"/><circle cx="564.7" cy="833.7" r="7.05"/><circle cx="565.3" cy="839.3" r="7.05"/><circle cx="565.9" cy="835" r="7.05"/><circle cx="566.6" cy="835.9" r="7.05"/><circle cx="567.2" cy="839.6" r="7.05"/><circle cx="567.9" cy="836.1" r="7.05"/><circle cx="568.5" cy="833.8" r="7.05"/><circle cx="569.1" cy="835.2" r="7.05"/><circle cx="569.8" cy="840.4" r="7.05"/><circle cx="570.4" cy="837.7" r="7.05"/><circle cx="571.1" cy="833" r="7.05"/><circle cx="571.7" cy="836.9" r="7.05"/><circle cx="572.3" cy="834.2" r="7.05"/><circle cx="573" cy="837.1" r="7.05"/><circle cx="573.6" cy="835.2" r="7.05"/><circle cx="574.3" cy="834.5" r="7.05"/><circle cx="574.9" cy="839.4" r="7.05"/><circle cx="575.5" cy="833" r="7.05"/><circle cx="576.2" cy="836.7" r="7.05"/><circle cx="576.8" cy="833.3" r="7.05"/><circle cx="577.5" cy="836.6" r="7.05"/><circle cx="578.1" cy="833.7" r="7.05"/><circle cx="578.7" cy="833.5" r="7.05"/><circle cx="579.4" cy="833.2" r="7.05"/><circle cx="580" cy="834.2" r="7.05"/><circle cx="580.7" cy="836.1" r="7.05"/><circle cx="581.3" cy="834.7" r="7.05"/><circle cx="342.5" cy="931.7" r="7.05"/><circle cx="581.5" cy="837" r="7.05"/>
</g>
<g fill="#0000ff" stroke="#000096" stroke-width="0.65">
<circle cx="119" cy="1374.7" r="7.05"/><circle cx="119.6" cy="1372.1" r="7.05"/><circle cx="120.3" cy="1369.6" r="7.05"/><circle cx="120.9" cy="1368.2" r="7.05"/><circle cx="121.6" cy="1368.6" r="7.05"/><circle cx="122.2" cy="1368.2" r="7.05"/><circle cx="122.8" cy="1369.5" r="7.05"/><circle cx="123.5" cy="1371.6" r="7.05"/><circle cx="124.1" cy="1374.2" r="7.05"/><circle cx="124.8" cy="1373" r="7.05"/><circle cx="125.4" cy="1373" r="7.05"/><circle cx="126" cy="1374.8" r="7.05"/><circle cx="126.7" cy="1374.9" r="7.05"/><circle cx="127.3" cy="1376.5" r="7.05"/><circle cx="128" cy="1376.4" r="7.05"/><circle cx="128.6" cy="1375.9" r="7.05"/><circle cx="129.2" cy="1377.5" r="7.05"/><circle cx="129.9" cy="1377.9" r="7.05"/><circle cx="130.5" cy="1377.8" r="7.05"/><circle cx="131.2" cy="1377.8" r="7.05"/><circle cx="131.8" cy="1379" r="7.05"/><circle cx="132.4" cy="1379.9" r="7.05"/><circle cx="133.1" cy="1378.5" r="7.05"/><circle cx="133.7" cy="1379.8" r="7.05"/><circle cx="134.3" cy="1380.5" r="7.05"/><circle cx="135" cy="1377.5" r="7.05"/><circle cx="135.6" cy="1379.9" r="7.05"/><circle cx="136.3" cy="1379.1" r="7.05"/><circle cx="136.9" cy="1378.8" r="7.05"/><circle cx="137.5" cy="1379.9" r="7.05"/><circle cx="138.2" cy="1381.5" r="7.05"/><circle cx="138.8" cy="1380.1" r="7.05"/><circle cx="139.5" cy="1379.2" r="7.05"/><circle cx="140.1" cy="1382.2" r="7.05"/><circle cx="140.7" cy="1381.3" r="7.05"/><circle cx="141.4" cy="1382" r="7.05"/><circle cx="142" cy="1381.3" r="7.05"/><circle cx="142.7" cy="1379.9" r="7.05"/><circle cx="143.3" cy="1381.5" r="7.05"/><circle cx="143.9" cy="1381.1" r="7.05"/><circle cx="144.6" cy="1380.7" r="7.05"/><circle cx="145.2" cy="1379.4" r="7.05"/><circle cx="145.9" cy="1381.3" r="7.05"/><circle cx="146.5" cy="1380.5" r="7.05"/><circle cx="147.1" cy="1381" r="7.05"/><circle cx="147.8" cy="1381" r="7.05"/><circle cx="148.4" cy="1381" r="7.05"/><circle cx="149.1" cy="1379.9" r="7.05"/><circle cx="149.7" cy="1381.2" r="7.05"/><circle cx="150.3" cy="1382.8" r="7.05"/><circle cx="151" cy="1382.1" r="7.05"/><circle cx="151.6" cy="1381.4" r="7.05"/><circle cx="152.3" cy="1381.8" r="7.05"/><circle cx="152.9" cy="1381.5" r="7.05"/><circle cx="153.5" cy="1380.9" r="7.05"/><circle cx="154.2" cy="1381" r="7.05"/><circle cx="154.8" cy="1381.2" r="7.05"/><circle cx="155.5" cy="1381.9" r="7.05"/><circle cx="156.1" cy="1379.6" r="7.05"/><circle cx="156.7" cy="1381.1" r="7.05"/><circle cx="157.4" cy="1381.2" r="7.05"/><circle cx="158" cy="1380.5" r="7.05"/><circle cx="158.6" cy="1381.8" r="7.05"/><circle cx="159.3" cy="1381.8" r="7.05"/><circle cx="159.9" cy="1382.8" r="7.05"/><circle cx="160.6" cy="1380.8" r="7.05"/><circle cx="161.2" cy="1381.2" r="7.05"/><circle cx="161.8" cy="1380.3" r="7.05"/><circle cx="162.5" cy="1379.8" r="7.05"/><circle cx="163.1" cy="1380.7" r="7.05"/><circle cx="163.8" cy="1379.2" r="7.05"/><circle cx="164.4" cy="1379.4" r="7.05"/><circle cx="165" cy="1379.4" r="7.05"/><circle cx="165.7" cy="1378.8" r="7.05"/><circle cx="166.3" cy="1378.7" r="7.05"/><circle cx="167" cy="1379.1" r="7.05"/><circle cx="167.6" cy="1376.8" r="7.05"/><circle cx="168.2" cy="1378.3" r="7.05"/><circle cx="168.9" cy="1375.8" r="7.05"/><circle cx="169.5" cy="1374.7" r="7.05"/><circle cx="170.2" cy="1372.2" r="7.05"/><circle cx="170.8" cy="1370" r="7.05"/><circle cx="171.4" cy="1367.8" r="7.05"/><circle cx="172.1" cy="1368.1" r="7.05"/><circle cx="172.7" cy="1367.3" r="7.05"/><circle cx="173.4" cy="1366.6" r="7.05"/><circle cx="174" cy="1365.5" r="7.05"/><circle cx="174.6" cy="1364.8" r="7.05"/><circle cx="175.3" cy="1364" r="7.05"/><circle cx="175.9" cy="1362.5" r="7.05"/><circle cx="176.6" cy="1361.2" r="7.05"/><circle cx="177.2" cy="1362.6" r="7.05"/><circle cx="178" cy="1360.7" r="7.05"/><circle cx="179.3" cy="1348.2" r="7.05"/><circle cx="179.9" cy="1333.3" r="7.05"/><circle cx="180.4" cy="1327.5" r="7.05"/><circle cx="181.3" cy="1320" r="7.05"/><circle cx="182.4" cy="1305.1" r="7.05"/><circle cx="182.9" cy="1289.7" r="7.05"/><circle cx="183.7" cy="1276.9" r="7.05"/><circle cx="184.6" cy="1268.6" r="7.05"/><circle cx="185.1" cy="1252.4" r="7.05"/><circle cx="186.2" cy="1233.8" r="7.05"/><circle cx="187.1" cy="1218.9" r="7.05"/><circle cx="187.6" cy="1201.1" r="7.05"/><circle cx="188.4" cy="1180.2" r="7.05"/><circle cx="188.7" cy="1164.1" r="7.05"/><circle cx="189.6" cy="1150.3" r="7.05"/><circle cx="190.4" cy="1129.9" r="7.05"/><circle cx="191.2" cy="1112.5" r="7.05"/><circle cx="190.3" cy="1104.5" r="7.05"/><circle cx="190" cy="1091" r="7.05"/><circle cx="190.8" cy="1074.5" r="7.05"/><circle cx="191" cy="1111.5" r="7.05"/><circle cx="193.6" cy="1111.8" r="7.05"/><circle cx="193.3" cy="1108.1" r="7.05"/><circle cx="193.9" cy="1105.8" r="7.05"/><circle cx="195.4" cy="1098.9" r="7.05"/><circle cx="196.1" cy="1096.7" r="7.05"/><circle cx="195.5" cy="1094.4" r="7.05"/><circle cx="195.6" cy="1081.5" r="7.05"/><circle cx="195.9" cy="1072.5" r="7.05"/><circle cx="198.6" cy="1061.2" r="7.05"/><circle cx="199.5" cy="1059.7" r="7.05"/><circle cx="198.1" cy="1053.7" r="7.05"/><circle cx="200.8" cy="1047.2" r="7.05"/><circle cx="199.2" cy="1040.4" r="7.05"/><circle cx="199.9" cy="1035.5" r="7.05"/><circle cx="200.8" cy="1027.5" r="7.05"/><circle cx="201.8" cy="1021.9" r="7.05"/><circle cx="203.6" cy="1013.2" r="7.05"/><circle cx="204.1" cy="1004.1" r="7.05"/><circle cx="204.8" cy="999.5" r="7.05"/><circle cx="205" cy="995.1" r="7.05"/><circle cx="204.8" cy="991.2" r="7.05"/><circle cx="205.8" cy="987.4" r="7.05"/><circle cx="205.7" cy="980.2" r="7.05"/><circle cx="207.3" cy="977.3" r="7.05"/><circle cx="208.5" cy="969.6" r="7.05"/><circle cx="207.6" cy="972.6" r="7.05"/><circle cx="208.2" cy="967.3" r="7.05"/><circle cx="209.4" cy="961.3" r="7.05"/><circle cx="209.4" cy="960.5" r="7.05"/><circle cx="210" cy="960.1" r="7.05"/><circle cx="212.9" cy="952.6" r="7.05"/><circle cx="212.4" cy="956.3" r="7.05"/><circle cx="213.4" cy="947.3" r="7.05"/><circle cx="213.8" cy="944.4" r="7.05"/><circle cx="214.1" cy="943.9" r="7.05"/><circle cx="215.6" cy="943.5" r="7.05"/><circle cx="215.7" cy="944.4" r="7.05"/><circle cx="216.6" cy="939.1" r="7.05"/><circle cx="216.1" cy="931.9" r="7.05"/><circle cx="217" cy="933.7" r="7.05"/><circle cx="219.3" cy="931.4" r="7.05"/><circle cx="219.1" cy="934.2" r="7.05"/><circle cx="219.1" cy="927.3" r="7.05"/><circle cx="221.3" cy="929.1" r="7.05"/><circle cx="219.8" cy="923.7" r="7.05"/><circle cx="221" cy="924.7" r="7.05"/><circle cx="221.1" cy="924" r="7.05"/><circle cx="223.2" cy="922" r="7.05"/><circle cx="224" cy="918.4" r="7.05"/><circle cx="224.2" cy="911.4" r="7.05"/><circle cx="224.3" cy="916.1" r="7.05"/><circle cx="226" cy="920.5" r="7.05"/><circle cx="225.1" cy="913.8" r="7.05"/><circle cx="225.3" cy="913.9" r="7.05"/><circle cx="227.6" cy="906.4" r="7.05"/><circle cx="228.5" cy="906.8" r="7.05"/><circle cx="228" cy="907.5" r="7.05"/><circle cx="230.2" cy="907.4" r="7.05"/><circle cx="229.6" cy="904.3" r="7.05"/><circle cx="230.3" cy="903.6" r="7.05"/><circle cx="231.8" cy="902.2" r="7.05"/><circle cx="231.1" cy="900" r="7.05"/><circle cx="231.3" cy="899.8" r="7.05"/><circle cx="233.8" cy="892.2" r="7.05"/><circle cx="234.4" cy="898" r="7.05"/><circle cx="234.8" cy="900.1" r="7.05"/><circle cx="236" cy="897.5" r="7.05"/><circle cx="235.5" cy="896.5" r="7.05"/><circle cx="237.3" cy="894.8" r="7.05"/><circle cx="237.9" cy="893.3" r="7.05"/><circle cx="237.9" cy="894.6" r="7.05"/><circle cx="238.1" cy="894.5" r="7.05"/><circle cx="239" cy="897.5" r="7.05"/><circle cx="239" cy="892.9" r="7.05"/><circle cx="240.6" cy="889.3" r="7.05"/><circle cx="239.8" cy="891.6" r="7.05"/><circle cx="242.3" cy="889.4" r="7.05"/><circle cx="241.6" cy="882.7" r="7.05"/><circle cx="242.6" cy="886.1" r="7.05"/><circle cx="242.3" cy="884.4" r="7.05"/><circle cx="243.1" cy="885.7" r="7.05"/><circle cx="243.5" cy="881.8" r="7.05"/><circle cx="245.9" cy="883.7" r="7.05"/><circle cx="245.3" cy="886.5" r="7.05"/><circle cx="245.8" cy="880" r="7.05"/><circle cx="246.2" cy="877.7" r="7.05"/><circle cx="247.7" cy="878.4" r="7.05"/><circle cx="247.4" cy="874.7" r="7.05"/><circle cx="248.8" cy="877.4" r="7.05"/><circle cx="249" cy="879.5" r="7.05"/><circle cx="251.4" cy="875.8" r="7.05"/><circle cx="251.3" cy="878.9" r="7.05"/><circle cx="250.6" cy="875.4" r="7.05"/><circle cx="252.8" cy="873.7" r="7.05"/><circle cx="253.8" cy="874.5" r="7.05"/><circle cx="254.1" cy="870.8" r="7.05"/><circle cx="253" cy="870.7" r="7.05"/><circle cx="255.8" cy="871.2" r="7.05"/><circle cx="255.3" cy="874.7" r="7.05"/><circle cx="255.9" cy="876.6" r="7.05"/><circle cx="256.6" cy="871.2" r="7.05"/><circle cx="257" cy="873.3" r="7.05"/><circle cx="258.4" cy="865.5" r="7.05"/><circle cx="259.5" cy="868.2" r="7.05"/><circle cx="258.8" cy="869.3" r="7.05"/><circle cx="260" cy="868.7" r="7.05"/><circle cx="260.7" cy="863.1" r="7.05"/><circle cx="261.3" cy="864.9" r="7.05"/><circle cx="260.5" cy="863.1" r="7.05"/><circle cx="262.5" cy="865.3" r="7.05"/><circle cx="263.3" cy="866" r="7.05"/><circle cx="264.4" cy="863.8" r="7.05"/><circle cx="264.6" cy="868" r="7.05"/><circle cx="265.3" cy="866.6" r="7.05"/><circle cx="264.5" cy="860.5" r="7.05"/><circle cx="266.5" cy="861.4" r="7.05"/><circle cx="267.2" cy="864.8" r="7.05"/><circle cx="266.7" cy="857.9" r="7.05"/><circle cx="267.1" cy="857.4" r="7.05"/><circle cx="269.6" cy="860.7" r="7.05"/><circle cx="270" cy="858.4" r="7.05"/><circle cx="269" cy="865.3" r="7.05"/><circle cx="271" cy="867.8" r="7.05"/><circle cx="270.5" cy="861.7" r="7.05"/><circle cx="272" cy="861.4" r="7.05"/><circle cx="273.8" cy="860.4" r="7.05"/><circle cx="273.1" cy="862" r="7.05"/><circle cx="274" cy="859.5" r="7.05"/><circle cx="275.3" cy="857.5" r="7.05"/><circle cx="275.7" cy="857.5" r="7.05"/><circle cx="276.4" cy="858.6" r="7.05"/><circle cx="277.3" cy="856.2" r="7.05"/><circle cx="277.2" cy="857.9" r="7.05"/><circle cx="278.1" cy="854.7" r="7.05"/><circle cx="277.4" cy="858.1" r="7.05"/><circle cx="278.1" cy="856.5" r="7.05"/><circle cx="278.7" cy="859.7" r="7.05"/><circle cx="279.5" cy="853.4" r="7.05"/><circle cx="280.3" cy="855.2" r="7.05"/><circle cx="282.1" cy="854.8" r="7.05"/><circle cx="281.2" cy="857.5" r="7.05"/><circle cx="282.9" cy="852.9" r="7.05"/><circle cx="282.7" cy="850.8" r="7.05"/><circle cx="283" cy="852.8" r="7.05"/><circle cx="283.8" cy="855.5" r="7.05"/><circle cx="285.2" cy="851.6" r="7.05"/><circle cx="286.4" cy="852.2" r="7.05"/><circle cx="287.7" cy="851.1" r="7.05"/><circle cx="288.1" cy="848.9" r="7.05"/><circle cx="289" cy="857.4" r="7.05"/><circle cx="289.2" cy="849" r="7.05"/><circle cx="290.3" cy="850.8" r="7.05"/><circle cx="289" cy="848" r="7.05"/><circle cx="290.5" cy="849.4" r="7.05"/><circle cx="290.8" cy="847.7" r="7.05"/><circle cx="290.8" cy="851.3" r="7.05"/><circle cx="293.2" cy="849.6" r="7.05"/><circle cx="292" cy="850.2" r="7.05"/><circle cx="294.8" cy="850.3" r="7.05"/><circle cx="293.6" cy="848.4" r="7.05"/><circle cx="294.6" cy="847.3" r="7.05"/><circle cx="294.4" cy="846.1" r="7.05"/><circle cx="295.5" cy="845.2" r="7.05"/><circle cx="295.9" cy="845.3" r="7.05"/><circle cx="296.7" cy="846" r="7.05"/><circle cx="297.4" cy="844.8" r="7.05"/><circle cx="298.5" cy="847.5" r="7.05"/><circle cx="298.7" cy="848.5" r="7.05"/><circle cx="300.9" cy="843.2" r="7.05"/><circle cx="301.8" cy="841.6" r="7.05"/><circle cx="300.9" cy="839.3" r="7.05"/><circle cx="301.3" cy="839.2" r="7.05"/><circle cx="303.7" cy="842.4" r="7.05"/><circle cx="302.6" cy="839.7" r="7.05"/><circle cx="304.3" cy="836.7" r="7.05"/><circle cx="304.8" cy="841.8" r="7.05"/><circle cx="305.2" cy="840.5" r="7.05"/><circle cx="306.1" cy="844.2" r="7.05"/><circle cx="305.8" cy="838.4" r="7.05"/><circle cx="306.3" cy="839.2" r="7.05"/><circle cx="308.7" cy="838.4" r="7.05"/><circle cx="307.4" cy="834.4" r="7.05"/><circle cx="308" cy="835.3" r="7.05"/><circle cx="308.7" cy="835.1" r="7.05"/><circle cx="309.1" cy="834.5" r="7.05"/><circle cx="310.9" cy="838.3" r="7.05"/><circle cx="311.3" cy="832.3" r="7.05"/><circle cx="311" cy="833.8" r="7.05"/><circle cx="312.7" cy="833.5" r="7.05"/><circle cx="313.7" cy="832.6" r="7.05"/><circle cx="314.3" cy="833.2" r="7.05"/><circle cx="314.9" cy="834.9" r="7.05"/><circle cx="315.4" cy="833.8" r="7.05"/><circle cx="309" cy="834.5" r="7.05"/>
</g>
<g fill="#a5a5a5" stroke="#5e5e5e" stroke-width="0.65">
<circle cx="154.7" cy="1373.1" r="7.05"/><circle cx="155.3" cy="1374.4" r="7.05"/><circle cx="156" cy="1373.6" r="7.05"/><circle cx="156.6" cy="1373.2" r="7.05"/><circle cx="157.3" cy="1373.3" r="7.05"/><circle cx="157.9" cy="1374.9" r="7.05"/><circle cx="158.5" cy="1375.5" r="7.05"/><circle cx="159.2" cy="1376.8" r="7.05"/><circle cx="159.8" cy="1377.7" r="7.05"/><circle cx="160.5" cy="1378.7" r="7.05"/><circle cx="161.1" cy="1377.4" r="7.05"/><circle cx="161.7" cy="1377.3" r="7.05"/><circle cx="162.4" cy="1378.3" r="7.05"/><circle cx="163" cy="1380.2" r="7.05"/><circle cx="163.7" cy="1378.1" r="7.05"/><circle cx="164.3" cy="1378.1" r="7.05"/><circle cx="164.9" cy="1379.4" r="7.05"/><circle cx="165.6" cy="1379" r="7.05"/><circle cx="166.2" cy="1378.5" r="7.05"/><circle cx="166.9" cy="1378.7" r="7.05"/><circle cx="167.5" cy="1379" r="7.05"/><circle cx="168.1" cy="1380" r="7.05"/><circle cx="168.8" cy="1378.6" r="7.05"/><circle cx="169.4" cy="1378.1" r="7.05"/><circle cx="170" cy="1380.5" r="7.05"/><circle cx="170.7" cy="1380.6" r="7.05"/><circle cx="171.3" cy="1379.6" r="7.05"/><circle cx="172" cy="1378.1" r="7.05"/><circle cx="172.6" cy="1379.5" r="7.05"/><circle cx="173.2" cy="1380.5" r="7.05"/><circle cx="173.9" cy="1381.6" r="7.05"/><circle cx="174.5" cy="1377.9" r="7.05"/><circle cx="175.2" cy="1379.7" r="7.05"/><circle cx="175.8" cy="1379.5" r="7.05"/><circle cx="176.4" cy="1380.1" r="7.05"/><circle cx="177.1" cy="1378.4" r="7.05"/><circle cx="177.7" cy="1381.2" r="7.05"/><circle cx="178.4" cy="1380.1" r="7.05"/><circle cx="179" cy="1379.8" r="7.05"/><circle cx="179.6" cy="1379.3" r="7.05"/><circle cx="180.3" cy="1380.4" r="7.05"/><circle cx="180.9" cy="1381.4" r="7.05"/><circle cx="181.6" cy="1381.5" r="7.05"/><circle cx="182.2" cy="1379.9" r="7.05"/><circle cx="182.8" cy="1382.2" r="7.05"/><circle cx="183.5" cy="1379.1" r="7.05"/><circle cx="184.1" cy="1380.7" r="7.05"/><circle cx="184.8" cy="1380.9" r="7.05"/><circle cx="185.4" cy="1381.5" r="7.05"/><circle cx="186" cy="1381" r="7.05"/><circle cx="186.7" cy="1380.2" r="7.05"/><circle cx="187.3" cy="1381.5" r="7.05"/><circle cx="188" cy="1382.4" r="7.05"/><circle cx="188.6" cy="1380.6" r="7.05"/><circle cx="189.2" cy="1377.2" r="7.05"/><circle cx="189.9" cy="1380.7" r="7.05"/><circle cx="190.5" cy="1382.4" r="7.05"/><circle cx="191.2" cy="1381" r="7.05"/><circle cx="191.8" cy="1378.9" r="7.05"/><circle cx="192.4" cy="1380.6" r="7.05"/><circle cx="193.1" cy="1380.9" r="7.05"/><circle cx="193.7" cy="1380.3" r="7.05"/><circle cx="194.3" cy="1379.6" r="7.05"/><circle cx="195" cy="1382.4" r="7.05"/><circle cx="195.6" cy="1380.5" r="7.05"/><circle cx="196.3" cy="1381.4" r="7.05"/><circle cx="196.9" cy="1382" r="7.05"/><circle cx="197.5" cy="1378.4" r="7.05"/><circle cx="198.2" cy="1379.9" r="7.05"/><circle cx="198.8" cy="1382.8" r="7.05"/><circle cx="199.5" cy="1378.9" r="7.05"/><circle cx="200.1" cy="1379" r="7.05"/><circle cx="200.7" cy="1376.8" r="7.05"/><circle cx="201.4" cy="1375.6" r="7.05"/><circle cx="202" cy="1374" r="7.05"/><circle cx="202.7" cy="1369.4" r="7.05"/><circle cx="203.3" cy="1365.8" r="7.05"/><circle cx="203.9" cy="1361.9" r="7.05"/><circle cx="204.6" cy="1359.2" r="7.05"/><circle cx="205.2" cy="1354.3" r="7.05"/><circle cx="205.9" cy="1352.6" r="7.05"/><circle cx="158.5" cy="1372" r="7.05"/><circle cx="162" cy="1374.5" r="7.05"/><circle cx="207.5" cy="1336.6" r="7.05"/><circle cx="207.8" cy="1324.2" r="7.05"/><circle cx="208.6" cy="1312.6" r="7.05"/><circle cx="209.5" cy="1302.6" r="7.05"/><circle cx="210.8" cy="1292.7" r="7.05"/><circle cx="211.6" cy="1282.2" r="7.05"/><circle cx="212.4" cy="1269.8" r="7.05"/><circle cx="213.3" cy="1254.2" r="7.05"/><circle cx="213.6" cy="1237.1" r="7.05"/><circle cx="214.4" cy="1212.6" r="7.05"/><circle cx="214.4" cy="1195.7" r="7.05"/><circle cx="214.8" cy="1188" r="7.05"/><circle cx="215.5" cy="1183" r="7.05"/><circle cx="216.5" cy="1179" r="7.05"/><circle cx="214.4" cy="1176.6" r="7.05"/><circle cx="218" cy="1177" r="7.05"/><circle cx="219.5" cy="1181" r="7.05"/><circle cx="220.2" cy="1183.2" r="7.05"/><circle cx="221.9" cy="1174.9" r="7.05"/><circle cx="222.7" cy="1161.7" r="7.05"/><circle cx="223" cy="1163.8" r="7.05"/><circle cx="222.7" cy="1149.1" r="7.05"/><circle cx="224.5" cy="1136.4" r="7.05"/><circle cx="223.6" cy="1126.1" r="7.05"/><circle cx="225.1" cy="1125" r="7.05"/><circle cx="225.9" cy="1115.5" r="7.05"/><circle cx="225.4" cy="1107.9" r="7.05"/><circle cx="227.3" cy="1101.8" r="7.05"/><circle cx="227.1" cy="1085.7" r="7.05"/><circle cx="227.3" cy="1077" r="7.05"/><circle cx="229.8" cy="1068.5" r="7.05"/><circle cx="228.9" cy="1058.7" r="7.05"/><circle cx="231.5" cy="1053.7" r="7.05"/><circle cx="230" cy="1048.6" r="7.05"/><circle cx="232.5" cy="1037.3" r="7.05"/><circle cx="232.8" cy="1033.7" r="7.05"/><circle cx="233" cy="1035.3" r="7.05"/><circle cx="233.7" cy="1028.6" r="7.05"/><circle cx="235" cy="1021.4" r="7.05"/><circle cx="235" cy="1017.9" r="7.05"/><circle cx="236" cy="1019.4" r="7.05"/><circle cx="235.6" cy="1013.4" r="7.05"/><circle cx="235.8" cy="1004.3" r="7.05"/><circle cx="236.9" cy="996.8" r="7.05"/><circle cx="238.4" cy="987.3" r="7.05"/><circle cx="238" cy="987.4" r="7.05"/><circle cx="238.8" cy="985.5" r="7.05"/><circle cx="240.2" cy="977.1" r="7.05"/><circle cx="239.8" cy="974.9" r="7.05"/><circle cx="241" cy="970.1" r="7.05"/><circle cx="243.1" cy="965.9" r="7.05"/><circle cx="243" cy="961.6" r="7.05"/><circle cx="244" cy="960.6" r="7.05"/><circle cx="242.7" cy="954.6" r="7.05"/><circle cx="244" cy="953" r="7.05"/><circle cx="246.1" cy="952.1" r="7.05"/><circle cx="246.6" cy="945.8" r="7.05"/><circle cx="246.1" cy="947.8" r="7.05"/><circle cx="248" cy="939.4" r="7.05"/><circle cx="247" cy="939" r="7.05"/><circle cx="248.4" cy="935" r="7.05"/><circle cx="249.9" cy="935.5" r="7.05"/><circle cx="249.3" cy="930.6" r="7.05"/><circle cx="250.2" cy="934.6" r="7.05"/><circle cx="249.9" cy="924.3" r="7.05"/><circle cx="251.8" cy="920.9" r="7.05"/><circle cx="252.8" cy="917.2" r="7.05"/><circle cx="252.5" cy="915.9" r="7.05"/><circle cx="254.6" cy="906.2" r="7.05"/><circle cx="254.9" cy="909.2" r="7.05"/><circle cx="253.5" cy="907.5" r="7.05"/><circle cx="255.4" cy="902.2" r="7.05"/><circle cx="255.4" cy="903.1" r="7.05"/><circle cx="256.4" cy="900.7" r="7.05"/><circle cx="257.1" cy="904.6" r="7.05"/><circle cx="257.3" cy="895.9" r="7.05"/><circle cx="258.5" cy="898.7" r="7.05"/><circle cx="260" cy="900.1" r="7.05"/><circle cx="259.3" cy="891.3" r="7.05"/><circle cx="259.6" cy="889.6" r="7.05"/><circle cx="261.7" cy="886.7" r="7.05"/><circle cx="261.8" cy="888.7" r="7.05"/><circle cx="261.2" cy="888.3" r="7.05"/><circle cx="264" cy="887.7" r="7.05"/><circle cx="264.5" cy="887" r="7.05"/><circle cx="263.2" cy="882.7" r="7.05"/><circle cx="265.8" cy="884.4" r="7.05"/><circle cx="265.5" cy="881.7" r="7.05"/><circle cx="265.2" cy="881.1" r="7.05"/><circle cx="265.9" cy="875.1" r="7.05"/><circle cx="267.4" cy="876.3" r="7.05"/><circle cx="269" cy="876.7" r="7.05"/><circle cx="268.6" cy="877.4" r="7.05"/><circle cx="269.9" cy="879.2" r="7.05"/><circle cx="269.3" cy="872.2" r="7.05"/><circle cx="271" cy="882.6" r="7.05"/><circle cx="271.2" cy="872.8" r="7.05"/><circle cx="271.3" cy="873.4" r="7.05"/><circle cx="272.2" cy="871.3" r="7.05"/><circle cx="272.5" cy="871.3" r="7.05"/><circle cx="272.8" cy="870.3" r="7.05"/><circle cx="275.5" cy="869.6" r="7.05"/><circle cx="276" cy="872.1" r="7.05"/><circle cx="276.2" cy="870.4" r="7.05"/><circle cx="275.7" cy="872.8" r="7.05"/><circle cx="277.2" cy="872.3" r="7.05"/><circle cx="277.6" cy="868" r="7.05"/><circle cx="277.6" cy="861.5" r="7.05"/><circle cx="278" cy="862.8" r="7.05"/><circle cx="279.5" cy="865.5" r="7.05"/><circle cx="280.8" cy="860" r="7.05"/><circle cx="279.9" cy="856" r="7.05"/><circle cx="281.3" cy="859.1" r="7.05"/><circle cx="281.6" cy="865.5" r="7.05"/><circle cx="282.1" cy="857.8" r="7.05"/><circle cx="282.9" cy="860.4" r="7.05"/><circle cx="283.5" cy="861.3" r="7.05"/><circle cx="285.6" cy="859" r="7.05"/><circle cx="285.5" cy="871.1" r="7.05"/><circle cx="286.8" cy="866.3" r="7.05"/><circle cx="287.8" cy="869.2" r="7.05"/><circle cx="286.5" cy="863.9" r="7.05"/><circle cx="287.9" cy="867.6" r="7.05"/><circle cx="327.5" cy="834.4" r="7.05"/>
</g>
<g fill="#ed7d31" stroke="#96480f" stroke-width="0.65">
<circle cx="122.4" cy="1368.6" r="7.05"/><circle cx="123.5" cy="1375" r="7.05"/><circle cx="124.5" cy="1379.5" r="7.05"/><circle cx="125.5" cy="1382.5" r="7.05"/><circle cx="126.5" cy="1384" r="7.05"/><circle cx="127.5" cy="1384" r="7.05"/><circle cx="128.5" cy="1383.5" r="7.05"/><circle cx="129.5" cy="1383.5" r="7.05"/><circle cx="130.5" cy="1383" r="7.05"/><circle cx="131.5" cy="1382" r="7.05"/><circle cx="132.5" cy="1380.5" r="7.05"/><circle cx="133.3" cy="1378.5" r="7.05"/><circle cx="134" cy="1377" r="7.05"/><circle cx="134.9" cy="1374" r="7.05"/><circle cx="135.7" cy="1370.6" r="7.05"/><circle cx="136.5" cy="1366" r="7.05"/><circle cx="137.3" cy="1361.5" r="7.05"/><circle cx="137.8" cy="1343.2" r="7.05"/><circle cx="138.5" cy="1320.5" r="7.05"/><circle cx="139.1" cy="1283.5" r="7.05"/><circle cx="139.5" cy="1260.3" r="7.05"/><circle cx="140.3" cy="1237.1" r="7.05"/><circle cx="140.6" cy="1202.8" r="7.05"/><circle cx="141.5" cy="1171.8" r="7.05"/><circle cx="142.3" cy="1134.4" r="7.05"/><circle cx="142.8" cy="1104.2" r="7.05"/><circle cx="143.4" cy="1091.2" r="7.05"/><circle cx="144.4" cy="1074" r="7.05"/><circle cx="144.8" cy="1061.4" r="7.05"/><circle cx="145.6" cy="1045.8" r="7.05"/><circle cx="146.1" cy="1031.5" r="7.05"/><circle cx="146.4" cy="1017.1" r="7.05"/><circle cx="147.3" cy="1002.7" r="7.05"/><circle cx="147.8" cy="991.4" r="7.05"/><circle cx="148.4" cy="981.1" r="7.05"/><circle cx="149.4" cy="970.7" r="7.05"/><circle cx="149.8" cy="964" r="7.05"/><circle cx="150.6" cy="952.9" r="7.05"/><circle cx="151.4" cy="940" r="7.05"/><circle cx="151.6" cy="928.1" r="7.05"/><circle cx="153.2" cy="917.2" r="7.05"/><circle cx="152.8" cy="907.3" r="7.05"/><circle cx="153.8" cy="901.7" r="7.05"/><circle cx="155.3" cy="898.5" r="7.05"/><circle cx="155.4" cy="893.4" r="7.05"/><circle cx="156" cy="888.4" r="7.05"/><circle cx="156.3" cy="890.3" r="7.05"/><circle cx="157.9" cy="884.2" r="7.05"/><circle cx="157.4" cy="880.6" r="7.05"/><circle cx="158.4" cy="877.9" r="7.05"/><circle cx="159.2" cy="874" r="7.05"/><circle cx="159.5" cy="873.1" r="7.05"/><circle cx="160.7" cy="867.7" r="7.05"/><circle cx="160.5" cy="868.2" r="7.05"/><circle cx="162.1" cy="864.7" r="7.05"/><circle cx="162.2" cy="866.8" r="7.05"/><circle cx="163.4" cy="860" r="7.05"/><circle cx="164" cy="861.2" r="7.05"/><circle cx="163.6" cy="857.6" r="7.05"/><circle cx="165.6" cy="857.3" r="7.05"/><circle cx="165.3" cy="856.1" r="7.05"/><circle cx="165.9" cy="855.5" r="7.05"/><circle cx="166.1" cy="856.2" r="7.05"/><circle cx="168" cy="851.5" r="7.05"/><circle cx="167.8" cy="850.9" r="7.05"/><circle cx="168.5" cy="851.6" r="7.05"/><circle cx="169.5" cy="850.4" r="7.05"/><circle cx="170.7" cy="848.9" r="7.05"/><circle cx="171.3" cy="845.3" r="7.05"/><circle cx="171.9" cy="845.6" r="7.05"/><circle cx="171.9" cy="844.7" r="7.05"/><circle cx="173" cy="847.3" r="7.05"/><circle cx="173.6" cy="843.6" r="7.05"/><circle cx="173" cy="843.5" r="7.05"/><circle cx="174.5" cy="843.6" r="7.05"/><circle cx="175.2" cy="840.5" r="7.05"/><circle cx="175.2" cy="841.3" r="7.05"/><circle cx="176.7" cy="841" r="7.05"/><circle cx="177.7" cy="840.8" r="7.05"/><circle cx="176.9" cy="839.3" r="7.05"/><circle cx="178.4" cy="840.6" r="7.05"/><circle cx="179.6" cy="837.4" r="7.05"/><circle cx="179.2" cy="838.5" r="7.05"/><circle cx="180.1" cy="839.9" r="7.05"/><circle cx="180.7" cy="839.9" r="7.05"/><circle cx="181.9" cy="839.2" r="7.05"/><circle cx="182.8" cy="838.7" r="7.05"/><circle cx="181.9" cy="836.5" r="7.05"/><circle cx="183.7" cy="835.6" r="7.05"/><circle cx="184.1" cy="833.7" r="7.05"/><circle cx="184.3" cy="836.4" r="7.05"/><circle cx="185.6" cy="835.1" r="7.05"/><circle cx="185.9" cy="834" r="7.05"/><circle cx="186.4" cy="835.5" r="7.05"/>
</g>
<g font-family='"Liberation Sans", sans-serif' font-size="18" fill="#000">
<text x="103.9" y="1390.7" text-anchor="end" font-size="18.3">0</text>
<text x="101.6" y="1280.7" text-anchor="end" font-size="18.3">0.2</text>
<text x="101.6" y="1170.7" text-anchor="end" font-size="18.3">0.4</text>
<text x="101.6" y="1060.7" text-anchor="end" font-size="18.3">0.6</text>
<text x="101.6" y="950.7" text-anchor="end" font-size="18.3">0.8</text>
<text x="101.6" y="840.7" text-anchor="end" font-size="18.3">1</text>
<text x="121" y="1415.3" text-anchor="middle" font-size="18.3">0</text>
<text x="248.9" y="1415.3" text-anchor="middle" font-size="18.3">200</text>
<text x="376.8" y="1415.3" text-anchor="middle" font-size="18.3">400</text>
<text x="504.7" y="1415.3" text-anchor="middle" font-size="18.3">600</text>
<text x="632.6" y="1415.3" text-anchor="middle" font-size="18.3">800</text>
<text x="760.5" y="1415.3" text-anchor="middle" font-size="18.3">1000</text>
<text x="888.4" y="1415.3" text-anchor="middle" font-size="18.3">1200</text>
<text x="522.7" y="1444.9" text-anchor="middle" font-size="18.4">Time, min</text>
<text transform="translate(61.3 1202.2) rotate(-90)" font-size="18.4">Extent of crystallinity, α</text>
<circle cx="359.8" cy="791.4" r="6.5" fill="#548235"/>
<text x="371" y="797">333 K</text>
<circle cx="442.1" cy="791.4" r="6.5" fill="#ff0000"/>
<text x="453.3" y="797">343 K</text>
<circle cx="522.6" cy="791.4" r="6.5" fill="#a5a5a5"/>
<text x="533.8" y="797">351 K</text>
<circle cx="603.6" cy="791.4" r="6.5" fill="#0000ff"/>
<text x="614.8" y="797">353 K</text>
<circle cx="684.6" cy="791.4" r="6.5" fill="#ed7d31"/>
<text x="695.8" y="797">361 K</text>
</g>
<text x="111" y="799" font-family='"Liberation Sans", sans-serif' font-size="23.5" fill="#000">(B)</text>
<text x="835" y="1038.6" font-family='"Liberation Sans", sans-serif' font-size="23.5" fill="#000">(C)</text>
<g stroke="#000" stroke-width="1.2" fill="none">
<path d="M555.8 1300.3H895.5M895.5 1077.7V1300.9M556.4 1300.3V1304.5M573.4 1300.3V1304.5M590.3 1300.3V1304.5M607.3 1300.3V1304.5M624.2 1300.3V1304.5M641.2 1300.3V1304.5M658.1 1300.3V1304.5M675.1 1300.3V1304.5M692 1300.3V1304.5M709 1300.3V1304.5M726 1300.3V1304.5M742.9 1300.3V1304.5M759.9 1300.3V1304.5M776.8 1300.3V1304.5M793.8 1300.3V1304.5M810.7 1300.3V1304.5M827.7 1300.3V1304.5M844.7 1300.3V1304.5M861.6 1300.3V1304.5M878.6 1300.3V1304.5M895.5 1300.3V1304.5M895.5 1078.3H899.3M895.5 1087.2H899.3M895.5 1096.1H899.3M895.5 1104.9H899.3M895.5 1113.8H899.3M895.5 1122.7H899.3M895.5 1131.6H899.3M895.5 1140.5H899.3M895.5 1149.3H899.3M895.5 1158.2H899.3M895.5 1167.1H899.3M895.5 1176H899.3M895.5 1184.9H899.3M895.5 1193.7H899.3M895.5 1202.6H899.3M895.5 1211.5H899.3M895.5 1220.4H899.3M895.5 1229.3H899.3M895.5 1238.1H899.3M895.5 1247H899.3M895.5 1255.9H899.3M895.5 1264.8H899.3M895.5 1273.7H899.3M895.5 1282.5H899.3M895.5 1291.4H899.3M895.5 1300.3H899.3"/>
</g>
<g font-family='"Liberation Sans", sans-serif' font-size="18" fill="#000">
<text x="566" y="1325.8" text-anchor="middle">0.00275</text>
<text x="650.8" y="1325.8" text-anchor="middle">0.0028</text>
<text x="735.6" y="1325.8" text-anchor="middle">0.00285</text>
<text x="820.3" y="1325.8" text-anchor="middle">0.0029</text>
<text x="905.1" y="1325.8" text-anchor="middle">0.00295</text>
<text x="906.6" y="1089">-2</text>
<text x="906.6" y="1133.4">-3</text>
<text x="906.6" y="1177.8">-4</text>
<text x="906.6" y="1222.2">-5</text>
<text x="906.6" y="1266.6">-6</text>
<text x="853.4" y="1357.5" text-anchor="end" font-size="18.2">Reciprocal temperature, 1/K</text>
<text transform="translate(939.5 1123.5) rotate(90)">Ln rate constant</text>
</g>
<g stroke="#484848" stroke-width="1.5" fill="none">
<path d="M590.4 1115V1148M587.4 1115H593.4M587.4 1148H593.4M697.1 1165.1V1206.6M694.1 1165.1H700.1M694.1 1206.6H700.1M724.2 1171.8V1225.3M721.2 1171.8H727.2M721.2 1225.3H727.2M836.9 1192.2V1253.2M833.9 1192.2H839.9M833.9 1253.2H839.9M694.1 1202.6H700.1"/>
</g>
<path d="M590.4 1136.6L836.9 1228.3" stroke="#548235" stroke-width="3.6" stroke-dasharray="11.2 4.4" fill="none"/>
<path d="M590.4 1143.5L836.9 1252.3" stroke="#ff0000" stroke-width="4.1" stroke-dasharray="11.2 4.4" fill="none"/>
<circle cx="590.4" cy="1129.1" r="4.7" fill="#548235" stroke="#3c5f26" stroke-width="0.6"/>
<circle cx="697.1" cy="1185.6" r="4.7" fill="#548235" stroke="#3c5f26" stroke-width="0.6"/>
<circle cx="724.2" cy="1192.8" r="4.7" fill="#548235" stroke="#3c5f26" stroke-width="0.6"/>
<circle cx="836.9" cy="1214.1" r="4.7" fill="#548235" stroke="#3c5f26" stroke-width="0.6"/>
<circle cx="590.4" cy="1140.5" r="4.7" fill="#ff0000" stroke="#c00000" stroke-width="0.6"/>
<circle cx="697.1" cy="1195.8" r="4.7" fill="#ff0000" stroke="#c00000" stroke-width="0.6"/>
<circle cx="724.2" cy="1213.2" r="4.7" fill="#ff0000" stroke="#c00000" stroke-width="0.6"/>
<circle cx="836.9" cy="1240.3" r="4.7" fill="#ff0000" stroke="#c00000" stroke-width="0.6"/>
<g font-family='"Liberation Sans", sans-serif' fill="#111">
<text x="657.5" y="1107.8" font-size="16.6" textLength="204.2" lengthAdjust="spacingAndGlyphs">E<tspan font-size="12.4" dy="4.4">act</tspan><tspan dy="-4.4">(growth) = 109±5 kJ/mol</tspan></text>
<text x="571.2" y="1270.2" font-size="16.6" textLength="229.5" lengthAdjust="spacingAndGlyphs">E<tspan font-size="12.4" dy="4.4">act</tspan><tspan dy="-4.4">(nucleation) = 128±8 kJ/mol</tspan></text>
</g>
</svg>
</body></html>
